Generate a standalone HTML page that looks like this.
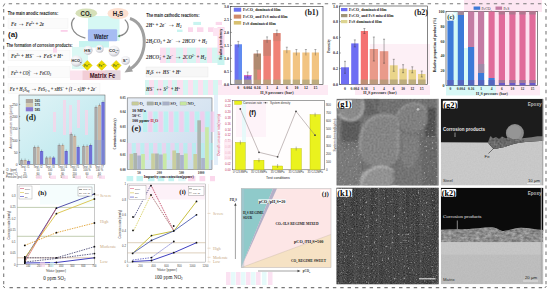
<!DOCTYPE html>
<html><head><meta charset="utf-8"><style>
html,body{margin:0;padding:0;background:#fff;width:550px;height:291px;overflow:hidden;}
svg{display:block;}
</style></head><body>
<svg width="550" height="291" viewBox="0 0 550 291">
<rect width="550" height="291" fill="#fff"/>
<defs>
<filter id="noise1" x="0" y="0" width="100%" height="100%">
  <feTurbulence type="fractalNoise" baseFrequency="0.9" numOctaves="2" seed="3" result="n"/>
  <feColorMatrix type="matrix" values="0 0 0 0 0.5  0 0 0 0 0.5  0 0 0 0 0.5  0 0 0 1.2 -0.35" result="m"/>
  <feComposite in="m" in2="SourceGraphic" operator="in"/>
</filter>
<linearGradient id="dbg" x1="0" y1="0" x2="1" y2="1">
  <stop offset="0" stop-color="#e2f4f7"/><stop offset="1" stop-color="#b5e6ec"/>
</linearGradient>
<linearGradient id="ebg" x1="0" y1="0" x2="1" y2="1">
  <stop offset="0" stop-color="#e8eef6"/><stop offset="1" stop-color="#c8dcee"/>
</linearGradient>
</defs>
<rect x="88" y="16" width="31.5" height="25" fill="#d6f8f4" />
<rect x="79" y="41" width="30" height="6.5" fill="#c8f4f0" />
<rect x="72" y="47" width="16" height="22" fill="#dcf8f4" />
<rect x="160" y="47.6" width="6" height="15.4" fill="#fbe0f0" />
<rect x="166" y="47.6" width="4" height="15.4" fill="#d6f6f2" />
<rect x="170" y="47.6" width="6" height="15.4" fill="#fbe0f0" />
<rect x="176" y="47.6" width="7" height="15.4" fill="#d6f6f2" />
<rect x="183" y="47.6" width="4" height="15.4" fill="#fbe0f0" />
<rect x="187" y="47.6" width="9" height="15.4" fill="#d6f6f2" />
<rect x="196" y="47.6" width="4" height="15.4" fill="#fbe0f0" />
<rect x="200" y="47.6" width="7" height="15.4" fill="#d6f6f2" />
<rect x="207" y="47.6" width="5" height="15.4" fill="#fbe0f0" />
<rect x="212" y="47.6" width="6" height="15.4" fill="#d6f6f2" />
<rect x="145" y="80" width="4" height="15" fill="#d6f6f2" />
<rect x="149" y="80" width="5" height="15" fill="#fbe0f0" />
<rect x="154" y="80" width="4" height="15" fill="#d6f6f2" />
<rect x="158" y="80" width="5" height="15" fill="#fbe0f0" />
<rect x="163" y="80" width="5" height="15" fill="#d6f6f2" />
<rect x="168" y="80" width="4" height="15" fill="#fbe0f0" />
<rect x="172" y="80" width="5" height="15" fill="#d6f6f2" />
<rect x="177" y="80" width="6" height="15" fill="#fbe0f0" />
<rect x="183" y="80" width="5" height="15" fill="#d6f6f2" />
<rect x="188" y="80" width="5" height="15" fill="#fbe0f0" />
<rect x="193" y="80" width="5" height="15" fill="#d6f6f2" />
<rect x="198" y="80" width="5" height="15" fill="#fbe0f0" />
<rect x="203" y="80" width="5" height="15" fill="#d6f6f2" />
<rect x="208" y="80" width="5" height="15" fill="#fbe0f0" />
<rect x="213" y="80" width="5" height="15" fill="#d6f6f2" />
<rect x="218" y="80" width="4" height="15" fill="#fbe0f0" />
<rect x="193.3" y="21.9" width="7.7" height="3.1" fill="#c8f4f0" />
<rect x="215.7" y="21.9" width="6.3" height="3.1" fill="#fbd8ec" />
<rect x="188" y="27.3" width="5" height="4.7" fill="#fbd8ec" />
<rect x="197" y="27.3" width="6.400000000000006" height="4.7" fill="#fbd8ec" />
<rect x="208" y="27.3" width="6" height="4.7" fill="#fbd8ec" />
<rect x="177" y="29.6" width="5.5" height="2.4" fill="#c8f4f0" />
<rect x="217.5" y="27" width="7" height="28" fill="#fbd8ec" />
<rect x="217.5" y="55" width="7" height="10" fill="#c8f4f0" />
<rect x="146" y="67" width="62" height="10" fill="#f7f7f7" stroke="#e4e4e4" stroke-width="0.4"/>
<rect x="8" y="18.5" width="60" height="10" fill="#fbfbfb" stroke="#f0f0f0" stroke-width="0.4"/>
<rect x="8" y="50.2" width="62" height="10.5" fill="#fbfbfb" stroke="#f0f0f0" stroke-width="0.4"/>
<rect x="8" y="66.5" width="62" height="11" fill="#fbfbfb" stroke="#f0f0f0" stroke-width="0.4"/>
<rect x="8" y="83.5" width="92" height="10" fill="#fbfbfb" stroke="#f0f0f0" stroke-width="0.4"/>
<rect x="60.7" y="30" width="7" height="1.8" fill="#fbd0ea" />
<rect x="53" y="47.6" width="4" height="5" fill="#fbd8ee" />
<text x="7.7" y="15.1" font-size="5.6" fill="#1a1a1a" font-weight="bold" font-family='"Liberation Sans", sans-serif' text-anchor="start" font-style="normal" textLength="50.5" lengthAdjust="spacingAndGlyphs">The main anodic reactions:</text>
<text x="11" y="26" font-size="5.9" fill="#383838" font-weight="bold" font-family='"Liberation Serif", serif' text-anchor="start" font-style="italic" textLength="33" lengthAdjust="spacingAndGlyphs"><tspan>Fe</tspan> <tspan font-size="8.5" font-style="normal" font-weight="normal">→</tspan> <tspan>Fe</tspan><tspan font-size="3.6" dy="-2">2+</tspan><tspan dy="2"> + 2e</tspan></text>
<text x="8" y="37" font-size="8" fill="#1a1a1a" font-weight="bold" font-family='"Liberation Sans", sans-serif' text-anchor="start" font-style="normal" >(a)</text>
<text x="6.5" y="47" font-size="5.6" fill="#1a1a1a" font-weight="bold" font-family='"Liberation Sans", sans-serif' text-anchor="start" font-style="normal" textLength="66" lengthAdjust="spacingAndGlyphs">The formation of corrosion products:</text>
<text x="11" y="58" font-size="5.9" fill="#383838" font-weight="bold" font-family='"Liberation Serif", serif' text-anchor="start" font-style="italic" textLength="52" lengthAdjust="spacingAndGlyphs">Fe<tspan font-size="3.6" dy="-2">2+</tspan><tspan dy="2"> + HS</tspan><tspan font-size="3.6" dy="-2">−</tspan><tspan dy="2"> <tspan font-size="8.5" font-style="normal" font-weight="normal">→</tspan> FeS + H</tspan><tspan font-size="3.6" dy="-2">+</tspan></text>
<text x="11" y="75" font-size="5.9" fill="#383838" font-weight="bold" font-family='"Liberation Serif", serif' text-anchor="start" font-style="italic" textLength="40" lengthAdjust="spacingAndGlyphs">Fe<tspan font-size="3.6" dy="-2">2+</tspan><tspan dy="2"> + CO</tspan><tspan font-size="3.6" dy="1">3</tspan><tspan font-size="3.6" dx="-1.6" dy="-3">2−</tspan><tspan dy="2"> <tspan font-size="8.5" font-style="normal" font-weight="normal">→</tspan> FeCO</tspan><tspan font-size="3.6" dy="1">3</tspan></text>
<text x="9.7" y="90.5" font-size="5.9" fill="#383838" font-weight="bold" font-family='"Liberation Serif", serif' text-anchor="start" font-style="italic" textLength="87" lengthAdjust="spacingAndGlyphs">Fe + H<tspan font-size="3.6" dy="1">2</tspan><tspan dy="-1">S</tspan><tspan font-size="3.6" dy="1">aq</tspan><tspan dy="-1"> <tspan font-size="8.5" font-style="normal" font-weight="normal">→</tspan> FeS</tspan><tspan font-size="3.6" dy="1">1−x</tspan><tspan dy="-1"> + xHS</tspan><tspan font-size="3.6" dy="-2">−</tspan><tspan dy="2"> + (1 − x)H</tspan><tspan font-size="3.6" dy="-2">+</tspan><tspan dy="2"> + 2e</tspan><tspan font-size="3.6" dy="-2">−</tspan></text>
<text x="146.2" y="17.3" font-size="5.6" fill="#1a1a1a" font-weight="bold" font-family='"Liberation Sans", sans-serif' text-anchor="start" font-style="normal" textLength="53.3" lengthAdjust="spacingAndGlyphs">The main cathodic reactions:</text>
<text x="146" y="27" font-size="5.9" fill="#383838" font-weight="bold" font-family='"Liberation Serif", serif' text-anchor="start" font-style="italic" textLength="35.5" lengthAdjust="spacingAndGlyphs">2H<tspan font-size="3.6" dy="-2">+</tspan><tspan dy="2"> + 2e</tspan><tspan font-size="3.6" dy="-2">−</tspan><tspan dy="2"> <tspan font-size="8.5" font-style="normal" font-weight="normal">→</tspan> H</tspan><tspan font-size="3.6" dy="1">2</tspan></text>
<text x="146" y="43" font-size="5.9" fill="#383838" font-weight="bold" font-family='"Liberation Serif", serif' text-anchor="start" font-style="italic" textLength="61" lengthAdjust="spacingAndGlyphs">2H<tspan font-size="3.6" dy="1">2</tspan><tspan dy="-1">CO</tspan><tspan font-size="3.6" dy="1">3</tspan><tspan dy="-1"> + 2e</tspan><tspan font-size="3.6" dy="-2">−</tspan><tspan dy="2"> <tspan font-size="8.5" font-style="normal" font-weight="normal">→</tspan> 2HCO</tspan><tspan font-size="3.6" dy="-2">−</tspan><tspan dy="2"> + H</tspan><tspan font-size="3.6" dy="1">2</tspan></text>
<text x="146" y="58.5" font-size="5.9" fill="#383838" font-weight="bold" font-family='"Liberation Serif", serif' text-anchor="start" font-style="italic" textLength="60" lengthAdjust="spacingAndGlyphs">2HCO<tspan font-size="3.6" dy="1">3</tspan><tspan font-size="3.6" dx="-1.6" dy="-3">−</tspan><tspan dy="2"> + 2e</tspan><tspan font-size="3.6" dy="-2">−</tspan><tspan dy="2"> <tspan font-size="8.5" font-style="normal" font-weight="normal">→</tspan> 2CO</tspan><tspan font-size="3.6" dy="-2">2−</tspan><tspan dy="2"> + H</tspan><tspan font-size="3.6" dy="1">2</tspan></text>
<text x="146" y="74" font-size="5.9" fill="#383838" font-weight="bold" font-family='"Liberation Serif", serif' text-anchor="start" font-style="italic" textLength="35" lengthAdjust="spacingAndGlyphs">H<tspan font-size="3.6" dy="1">2</tspan><tspan dy="-1">S <tspan font-size="8.5" font-style="normal" font-weight="normal">↔</tspan> HS</tspan><tspan font-size="3.6" dy="-2">−</tspan><tspan dy="2"> + H</tspan><tspan font-size="3.6" dy="-2">+</tspan></text>
<text x="146" y="90.5" font-size="5.9" fill="#383838" font-weight="bold" font-family='"Liberation Serif", serif' text-anchor="start" font-style="italic" textLength="34" lengthAdjust="spacingAndGlyphs">HS<tspan font-size="3.6" dy="-2">−</tspan><tspan dy="2"> <tspan font-size="8.5" font-style="normal" font-weight="normal">↔</tspan> S</tspan><tspan font-size="3.6" dy="-2">2−</tspan><tspan dy="2"> + H</tspan><tspan font-size="3.6" dy="-2">+</tspan></text>
<ellipse cx="86.3" cy="13.2" rx="10.8" ry="4.8" fill="#d6e0b8"/>
<text x="86" y="15.8" font-size="6.5" fill="#222" font-weight="bold" font-family='"Liberation Sans", sans-serif' text-anchor="middle" font-style="normal" textLength="10.8" lengthAdjust="spacingAndGlyphs">CO<tspan font-size="3.5" dy="1">2</tspan></text>
<ellipse cx="118" cy="13.5" rx="10.5" ry="5.6" fill="#fde0d0"/>
<text x="118" y="16.2" font-size="6.5" fill="#222" font-weight="bold" font-family='"Liberation Sans", sans-serif' text-anchor="middle" font-style="normal" textLength="10.5" lengthAdjust="spacingAndGlyphs">H<tspan font-size="3.5" dy="1">2</tspan><tspan dy="-1">S</tspan></text>
<path d="M74.5 17.7 C69.5 23, 70 34, 85.4 38.1" fill="none" stroke="#8a8a8a" stroke-width="1.3"/>
<path d="M124.8 19.6 C130.5 25, 129 34.5, 118.5 36.2" fill="none" stroke="#8a8a8a" stroke-width="1.3"/>
<path d="M117.5 36.3 L120 34.6 L120.2 37.6 Z" fill="#5a9a6a"/>
<path d="M130 18.5 C 149 24, 149 58, 130 69" fill="none" stroke="#a0a0a0" stroke-width="3"/>
<path d="M124.5 72.5 L 129.5 65 L 133 71.5 Z" fill="#a0a0a0"/>
<rect x="87.9" y="29.2" width="29.3" height="12.1" fill="#a6bcf2" rx="1.2"/>
<text x="101.2" y="38.7" font-size="6.8" fill="#1a2030" font-weight="bold" font-family='"Liberation Sans", sans-serif' text-anchor="middle" font-style="normal" textLength="14.3" lengthAdjust="spacingAndGlyphs">Water</text>
<defs><radialGradient id="ionG" cx="0.4" cy="0.35" r="0.7"><stop offset="0" stop-color="#ffffff"/><stop offset="0.6" stop-color="#ececf0"/><stop offset="1" stop-color="#b8b8c0"/></radialGradient></defs>
<circle cx="88" cy="50.3" r="4.6" fill="url(#ionG)"/>
<text x="88" y="51.599999999999994" font-size="4.3" fill="#2a2a2a" font-weight="bold" font-family='"Liberation Sans", sans-serif' text-anchor="middle" font-style="normal" >HS<tspan font-size="2.2" dy="-1.5">−</tspan></text>
<circle cx="99.6" cy="48.8" r="4.0" fill="url(#ionG)"/>
<text x="99.6" y="50.099999999999994" font-size="4.3" fill="#2a2a2a" font-weight="bold" font-family='"Liberation Sans", sans-serif' text-anchor="middle" font-style="normal" >H<tspan font-size="2.2" dy="-1.5">+</tspan></text>
<circle cx="114" cy="51" r="5.6" fill="url(#ionG)"/>
<text x="114" y="52.3" font-size="4.3" fill="#2a2a2a" font-weight="bold" font-family='"Liberation Sans", sans-serif' text-anchor="middle" font-style="normal" >CO<tspan font-size="2.2" dy="1">3</tspan><tspan font-size="2.2" dy="-2.5">2−</tspan></text>
<circle cx="76.5" cy="61" r="5.8" fill="url(#ionG)"/>
<text x="76.5" y="62.3" font-size="3.8" fill="#2a2a2a" font-weight="bold" font-family='"Liberation Sans", sans-serif' text-anchor="middle" font-style="normal" >HCO<tspan font-size="2.4" dy="1">3</tspan></text>
<circle cx="125.5" cy="60.4" r="4.5" fill="url(#ionG)"/>
<text x="125.5" y="61.699999999999996" font-size="4.3" fill="#2a2a2a" font-weight="bold" font-family='"Liberation Sans", sans-serif' text-anchor="middle" font-style="normal" >S<tspan font-size="2.2" dy="-1.5">2−</tspan></text>
<path d="M87.3 60.400000000000006 L92.3 65.4 L87.3 70.4 L82.3 65.4 Z" fill="#eedc00" stroke="#d8c000" stroke-width="0.4"/>
<text x="87.3" y="66.7" font-size="3.3" fill="#4a6a20" font-weight="bold" font-family='"Liberation Sans", sans-serif' text-anchor="middle" font-style="normal" >Fe<tspan font-size="2.2" dy="-1.3">2+</tspan></text>
<path d="M101.7 60.400000000000006 L106.7 65.4 L101.7 70.4 L96.7 65.4 Z" fill="#eedc00" stroke="#d8c000" stroke-width="0.4"/>
<text x="101.7" y="66.7" font-size="3.3" fill="#4a6a20" font-weight="bold" font-family='"Liberation Sans", sans-serif' text-anchor="middle" font-style="normal" >Fe<tspan font-size="2.2" dy="-1.3">2+</tspan></text>
<path d="M116.2 60.400000000000006 L121.2 65.4 L116.2 70.4 L111.2 65.4 Z" fill="#eedc00" stroke="#d8c000" stroke-width="0.4"/>
<text x="116.2" y="66.7" font-size="3.3" fill="#4a6a20" font-weight="bold" font-family='"Liberation Sans", sans-serif' text-anchor="middle" font-style="normal" >Fe<tspan font-size="2.2" dy="-1.3">2+</tspan></text>
<rect x="70" y="70.5" width="12.3" height="9.5" fill="#fbe4ee" />
<rect x="82.3" y="70.5" width="38" height="9.5" fill="#f2cdd6" />
<rect x="105" y="70.5" width="15.3" height="9.5" fill="#e4d6dc" />
<text x="102.5" y="78.3" font-size="6.3" fill="#3a1020" font-weight="bold" font-family='"Liberation Sans", sans-serif' text-anchor="middle" font-style="normal" textLength="25.5" lengthAdjust="spacingAndGlyphs">Matrix Fe</text>
<rect x="218" y="85" width="110" height="10" fill="#fdeaf4" />
<rect x="213" y="28" width="12" height="8" fill="#fde4f2" />
<rect x="230.5" y="6.5" width="92.5" height="77.8" fill="none" stroke="#333" stroke-width="0.6"/>
<text x="229.0" y="8.0" font-size="4" fill="#333" font-weight="bold" font-family='"Liberation Serif", serif' text-anchor="end" font-style="normal" >3.0</text>
<line x1="230.5" y1="6.5" x2="232.0" y2="6.5" stroke="#333" stroke-width="0.4" />
<text x="229.0" y="20.96666666666667" font-size="4" fill="#333" font-weight="bold" font-family='"Liberation Serif", serif' text-anchor="end" font-style="normal" >2.5</text>
<line x1="230.5" y1="19.46666666666667" x2="232.0" y2="19.46666666666667" stroke="#333" stroke-width="0.4" />
<text x="229.0" y="33.93333333333334" font-size="4" fill="#333" font-weight="bold" font-family='"Liberation Serif", serif' text-anchor="end" font-style="normal" >2.0</text>
<line x1="230.5" y1="32.43333333333334" x2="232.0" y2="32.43333333333334" stroke="#333" stroke-width="0.4" />
<text x="229.0" y="46.9" font-size="4" fill="#333" font-weight="bold" font-family='"Liberation Serif", serif' text-anchor="end" font-style="normal" >1.5</text>
<line x1="230.5" y1="45.4" x2="232.0" y2="45.4" stroke="#333" stroke-width="0.4" />
<text x="229.0" y="59.86666666666667" font-size="4" fill="#333" font-weight="bold" font-family='"Liberation Serif", serif' text-anchor="end" font-style="normal" >1.0</text>
<line x1="230.5" y1="58.36666666666667" x2="232.0" y2="58.36666666666667" stroke="#333" stroke-width="0.4" />
<text x="229.0" y="72.83333333333333" font-size="4" fill="#333" font-weight="bold" font-family='"Liberation Serif", serif' text-anchor="end" font-style="normal" >0.5</text>
<line x1="230.5" y1="71.33333333333333" x2="232.0" y2="71.33333333333333" stroke="#333" stroke-width="0.4" />
<text x="229.0" y="85.8" font-size="4" fill="#333" font-weight="bold" font-family='"Liberation Serif", serif' text-anchor="end" font-style="normal" >0.0</text>
<line x1="230.5" y1="84.3" x2="232.0" y2="84.3" stroke="#333" stroke-width="0.4" />
<text x="222.3" y="44.2" font-size="3.8" fill="#1a1a1a" font-weight="bold" font-family='"Liberation Sans", sans-serif' text-anchor="middle" font-style="normal" transform="rotate(-90 222.3 44.2)" textLength="31" lengthAdjust="spacingAndGlyphs">Scaling tendency</text>
<rect x="234.6" y="44.4" width="7.400000000000006" height="39.9" fill="#6a72f0" />
<rect x="234.6" y="79.6" width="7.400000000000006" height="4.700000000000003" fill="#b0a67e" opacity="0.8"/>
<rect x="244" y="75" width="7.400000000000006" height="9.299999999999997" fill="#8262e2" />
<rect x="244" y="79.6" width="7.400000000000006" height="4.700000000000003" fill="#b0a67e" opacity="0.8"/>
<rect x="253.7" y="53.7" width="7.300000000000011" height="30.599999999999994" fill="#e9837a" />
<rect x="253.7" y="79.6" width="7.300000000000011" height="4.700000000000003" fill="#b0a67e" opacity="0.8"/>
<rect x="263.4" y="39.9" width="7.400000000000034" height="44.4" fill="#ef8076" />
<rect x="263.4" y="79.6" width="7.400000000000034" height="4.700000000000003" fill="#b0a67e" opacity="0.8"/>
<rect x="273.3" y="33.1" width="7.199999999999989" height="51.199999999999996" fill="#f08276" />
<rect x="273.3" y="79.6" width="7.199999999999989" height="4.700000000000003" fill="#b0a67e" opacity="0.8"/>
<rect x="283.2" y="50.2" width="7.300000000000011" height="34.099999999999994" fill="#f2c482" />
<rect x="283.2" y="79.6" width="7.300000000000011" height="4.700000000000003" fill="#b0a67e" opacity="0.8"/>
<rect x="292.8" y="52.5" width="7.199999999999989" height="31.799999999999997" fill="#f2c482" />
<rect x="292.8" y="79.6" width="7.199999999999989" height="4.700000000000003" fill="#b0a67e" opacity="0.8"/>
<rect x="302.3" y="52.5" width="7.199999999999989" height="31.799999999999997" fill="#f2c482" />
<rect x="302.3" y="79.6" width="7.199999999999989" height="4.700000000000003" fill="#b0a67e" opacity="0.8"/>
<rect x="311.8" y="52.5" width="7.199999999999989" height="31.799999999999997" fill="#f2c482" />
<rect x="311.8" y="79.6" width="7.199999999999989" height="4.700000000000003" fill="#b0a67e" opacity="0.8"/>
<rect x="238.5" y="44.4" width="3.5" height="35" fill="#58a0f0" opacity="0.55"/>
<rect x="244" y="75" width="7.4" height="1.2" fill="#e070c0" />
<rect x="253.7" y="53.7" width="7.3" height="16" fill="#b08a70" />
<rect x="253.7" y="69.7" width="3.5" height="10" fill="#a89878" opacity="0.8"/>
<rect x="263.4" y="39.9" width="7.4" height="16" fill="#c88070" opacity="0.8"/>
<rect x="273.3" y="33.1" width="7.2" height="8" fill="#d08070" opacity="0.7"/>
<line x1="238.3" y1="41.4" x2="238.3" y2="47.4" stroke="#444" stroke-width="0.4" />
<line x1="237.3" y1="41.4" x2="239.3" y2="41.4" stroke="#444" stroke-width="0.4" />
<line x1="247.7" y1="72" x2="247.7" y2="78" stroke="#444" stroke-width="0.4" />
<line x1="246.7" y1="72" x2="248.7" y2="72" stroke="#444" stroke-width="0.4" />
<line x1="257.35" y1="50.7" x2="257.35" y2="56.7" stroke="#444" stroke-width="0.4" />
<line x1="256.35" y1="50.7" x2="258.35" y2="50.7" stroke="#444" stroke-width="0.4" />
<line x1="267.1" y1="36.9" x2="267.1" y2="42.9" stroke="#444" stroke-width="0.4" />
<line x1="266.1" y1="36.9" x2="268.1" y2="36.9" stroke="#444" stroke-width="0.4" />
<line x1="276.9" y1="30.1" x2="276.9" y2="36.1" stroke="#444" stroke-width="0.4" />
<line x1="275.9" y1="30.1" x2="277.9" y2="30.1" stroke="#444" stroke-width="0.4" />
<line x1="286.85" y1="47.2" x2="286.85" y2="53.2" stroke="#444" stroke-width="0.4" />
<line x1="285.85" y1="47.2" x2="287.85" y2="47.2" stroke="#444" stroke-width="0.4" />
<line x1="296.4" y1="49.5" x2="296.4" y2="55.5" stroke="#444" stroke-width="0.4" />
<line x1="295.4" y1="49.5" x2="297.4" y2="49.5" stroke="#444" stroke-width="0.4" />
<line x1="305.9" y1="49.5" x2="305.9" y2="55.5" stroke="#444" stroke-width="0.4" />
<line x1="304.9" y1="49.5" x2="306.9" y2="49.5" stroke="#444" stroke-width="0.4" />
<line x1="315.4" y1="49.5" x2="315.4" y2="55.5" stroke="#444" stroke-width="0.4" />
<line x1="314.4" y1="49.5" x2="316.4" y2="49.5" stroke="#444" stroke-width="0.4" />
<rect x="233.8" y="7.7" width="7.4" height="4" fill="#6b73f2" />
<text x="243" y="11.3" font-size="3.9" fill="#1a1a1a" font-weight="bold" font-family='"Liberation Serif", serif' text-anchor="start" font-style="normal" >FeCO<tspan font-size="2.5" dy="1">3</tspan><tspan dy="-1"> dominated film</tspan></text>
<rect x="233.8" y="14.6" width="7.4" height="4" fill="#d08a6a" />
<text x="243" y="18.2" font-size="3.9" fill="#1a1a1a" font-weight="bold" font-family='"Liberation Serif", serif' text-anchor="start" font-style="normal" >FeCO<tspan font-size="2.5" dy="1">3</tspan><tspan dy="-1"> and FeS mixed film</tspan></text>
<rect x="233.8" y="21" width="7.4" height="3.6" fill="#d8c070" />
<text x="243" y="24.6" font-size="3.9" fill="#1a1a1a" font-weight="bold" font-family='"Liberation Serif", serif' text-anchor="start" font-style="normal" >FeS dominated film</text>
<text x="318.5" y="15" font-size="8" fill="#222" font-weight="bold" font-family='"Liberation Serif", serif' text-anchor="end" font-style="normal" >(b1)</text>
<text x="238.3" y="88.9" font-size="3.8" fill="#222" font-weight="bold" font-family='"Liberation Serif", serif' text-anchor="middle" font-style="normal" >0</text>
<text x="247.7" y="88.9" font-size="3.8" fill="#222" font-weight="bold" font-family='"Liberation Serif", serif' text-anchor="middle" font-style="normal" >0.004</text>
<text x="257.35" y="88.9" font-size="3.8" fill="#222" font-weight="bold" font-family='"Liberation Serif", serif' text-anchor="middle" font-style="normal" >0.16</text>
<text x="267.1" y="88.9" font-size="3.8" fill="#222" font-weight="bold" font-family='"Liberation Serif", serif' text-anchor="middle" font-style="normal" >1</text>
<text x="276.9" y="88.9" font-size="3.8" fill="#222" font-weight="bold" font-family='"Liberation Serif", serif' text-anchor="middle" font-style="normal" >4</text>
<text x="286.85" y="88.9" font-size="3.8" fill="#222" font-weight="bold" font-family='"Liberation Serif", serif' text-anchor="middle" font-style="normal" >6</text>
<text x="296.4" y="88.9" font-size="3.8" fill="#222" font-weight="bold" font-family='"Liberation Serif", serif' text-anchor="middle" font-style="normal" >10</text>
<text x="305.9" y="88.9" font-size="3.8" fill="#222" font-weight="bold" font-family='"Liberation Serif", serif' text-anchor="middle" font-style="normal" >12</text>
<text x="315.4" y="88.9" font-size="3.8" fill="#222" font-weight="bold" font-family='"Liberation Serif", serif' text-anchor="middle" font-style="normal" >15</text>
<text x="277" y="94" font-size="4.2" fill="#333" font-weight="bold" font-family='"Liberation Serif", serif' text-anchor="middle" font-style="normal" >H<tspan font-size="2.6" dy="1">2</tspan><tspan dy="-1">S pressure (bar)</tspan></text>
<rect x="355" y="85" width="75" height="10" fill="#fdeaf4" />
<rect x="370" y="44" width="60" height="40" fill="#fdf0f6" />
<rect x="339.5" y="6" width="87.89999999999998" height="78.3" fill="none" stroke="#333" stroke-width="0.6"/>
<text x="338.0" y="7.5" font-size="4" fill="#333" font-weight="bold" font-family='"Liberation Serif", serif' text-anchor="end" font-style="normal" >1.0</text>
<line x1="339.5" y1="6.0" x2="341.0" y2="6.0" stroke="#333" stroke-width="0.4" />
<text x="338.0" y="23.16" font-size="4" fill="#333" font-weight="bold" font-family='"Liberation Serif", serif' text-anchor="end" font-style="normal" >0.8</text>
<line x1="339.5" y1="21.66" x2="341.0" y2="21.66" stroke="#333" stroke-width="0.4" />
<text x="338.0" y="38.82" font-size="4" fill="#333" font-weight="bold" font-family='"Liberation Serif", serif' text-anchor="end" font-style="normal" >0.6</text>
<line x1="339.5" y1="37.32" x2="341.0" y2="37.32" stroke="#333" stroke-width="0.4" />
<text x="338.0" y="54.48" font-size="4" fill="#333" font-weight="bold" font-family='"Liberation Serif", serif' text-anchor="end" font-style="normal" >0.4</text>
<line x1="339.5" y1="52.98" x2="341.0" y2="52.98" stroke="#333" stroke-width="0.4" />
<text x="338.0" y="70.14" font-size="4" fill="#333" font-weight="bold" font-family='"Liberation Serif", serif' text-anchor="end" font-style="normal" >0.2</text>
<line x1="339.5" y1="68.64" x2="341.0" y2="68.64" stroke="#333" stroke-width="0.4" />
<text x="338.0" y="85.8" font-size="4" fill="#333" font-weight="bold" font-family='"Liberation Serif", serif' text-anchor="end" font-style="normal" >0.0</text>
<line x1="339.5" y1="84.3" x2="341.0" y2="84.3" stroke="#333" stroke-width="0.4" />
<text x="329" y="45" font-size="4" fill="#333" font-weight="bold" font-family='"Liberation Serif", serif' text-anchor="middle" font-style="normal" transform="rotate(-90 330 45)">Porosity</text>
<rect x="341" y="67.3" width="8" height="17.0" fill="#6d6df3" />
<rect x="351.2" y="43.4" width="7.300000000000011" height="40.9" fill="#6d6df3" />
<rect x="360.8" y="31" width="7.199999999999989" height="53.3" fill="#f47272" />
<rect x="360.8" y="79.5" width="7.199999999999989" height="4.799999999999997" fill="#a89a78" opacity="0.7"/>
<rect x="369.7" y="49" width="8.300000000000011" height="35.3" fill="#e99a8a" />
<rect x="369.7" y="79.5" width="8.300000000000011" height="4.799999999999997" fill="#a89a78" opacity="0.7"/>
<rect x="379.8" y="51.2" width="8.5" height="33.099999999999994" fill="#e99a8a" />
<rect x="379.8" y="79.5" width="8.5" height="4.799999999999997" fill="#a89a78" opacity="0.7"/>
<rect x="389.8" y="65.3" width="7.899999999999977" height="19.0" fill="#ead58a" />
<rect x="389.8" y="79.5" width="7.899999999999977" height="4.799999999999997" fill="#a89a78" opacity="0.7"/>
<rect x="399.4" y="68.7" width="7.400000000000034" height="15.599999999999994" fill="#ead58a" />
<rect x="399.4" y="79.5" width="7.400000000000034" height="4.799999999999997" fill="#a89a78" opacity="0.7"/>
<rect x="408.6" y="69.8" width="7.399999999999977" height="14.5" fill="#ead58a" />
<rect x="408.6" y="79.5" width="7.399999999999977" height="4.799999999999997" fill="#a89a78" opacity="0.7"/>
<rect x="418" y="74" width="7.5" height="10.299999999999997" fill="#ead58a" />
<rect x="418" y="79.5" width="7.5" height="4.799999999999997" fill="#a89a78" opacity="0.7"/>
<line x1="345.0" y1="61.3" x2="345.0" y2="73.3" stroke="#333" stroke-width="0.4" />
<line x1="344.0" y1="61.3" x2="346.0" y2="61.3" stroke="#333" stroke-width="0.4" />
<line x1="344.0" y1="73.3" x2="346.0" y2="73.3" stroke="#333" stroke-width="0.4" />
<line x1="354.85" y1="39.9" x2="354.85" y2="46.9" stroke="#333" stroke-width="0.4" />
<line x1="353.85" y1="39.9" x2="355.85" y2="39.9" stroke="#333" stroke-width="0.4" />
<line x1="353.85" y1="46.9" x2="355.85" y2="46.9" stroke="#333" stroke-width="0.4" />
<line x1="364.4" y1="28.5" x2="364.4" y2="33.5" stroke="#333" stroke-width="0.4" />
<line x1="363.4" y1="28.5" x2="365.4" y2="28.5" stroke="#333" stroke-width="0.4" />
<line x1="363.4" y1="33.5" x2="365.4" y2="33.5" stroke="#333" stroke-width="0.4" />
<line x1="373.85" y1="37" x2="373.85" y2="61" stroke="#333" stroke-width="0.4" />
<line x1="372.85" y1="37" x2="374.85" y2="37" stroke="#333" stroke-width="0.4" />
<line x1="372.85" y1="61" x2="374.85" y2="61" stroke="#333" stroke-width="0.4" />
<line x1="384.05" y1="39.2" x2="384.05" y2="63.2" stroke="#333" stroke-width="0.4" />
<line x1="383.05" y1="39.2" x2="385.05" y2="39.2" stroke="#333" stroke-width="0.4" />
<line x1="383.05" y1="63.2" x2="385.05" y2="63.2" stroke="#333" stroke-width="0.4" />
<line x1="393.75" y1="59.3" x2="393.75" y2="71.3" stroke="#333" stroke-width="0.4" />
<line x1="392.75" y1="59.3" x2="394.75" y2="59.3" stroke="#333" stroke-width="0.4" />
<line x1="392.75" y1="71.3" x2="394.75" y2="71.3" stroke="#333" stroke-width="0.4" />
<line x1="403.1" y1="64.7" x2="403.1" y2="72.7" stroke="#333" stroke-width="0.4" />
<line x1="402.1" y1="64.7" x2="404.1" y2="64.7" stroke="#333" stroke-width="0.4" />
<line x1="402.1" y1="72.7" x2="404.1" y2="72.7" stroke="#333" stroke-width="0.4" />
<line x1="412.3" y1="66.8" x2="412.3" y2="72.8" stroke="#333" stroke-width="0.4" />
<line x1="411.3" y1="66.8" x2="413.3" y2="66.8" stroke="#333" stroke-width="0.4" />
<line x1="411.3" y1="72.8" x2="413.3" y2="72.8" stroke="#333" stroke-width="0.4" />
<line x1="421.75" y1="71" x2="421.75" y2="77" stroke="#333" stroke-width="0.4" />
<line x1="420.75" y1="71" x2="422.75" y2="71" stroke="#333" stroke-width="0.4" />
<line x1="420.75" y1="77" x2="422.75" y2="77" stroke="#333" stroke-width="0.4" />
<rect x="341" y="8" width="6.4" height="3.2" fill="#6d6df3" />
<text x="349" y="11.3" font-size="3.9" fill="#1a1a1a" font-weight="bold" font-family='"Liberation Serif", serif' text-anchor="start" font-style="normal" >FeCO<tspan font-size="2.5" dy="1">3</tspan><tspan dy="-1"> dominated film</tspan></text>
<rect x="341" y="14" width="6.4" height="3.2" fill="#a09478" />
<text x="349" y="17.3" font-size="3.9" fill="#1a1a1a" font-weight="bold" font-family='"Liberation Serif", serif' text-anchor="start" font-style="normal" >FeCO<tspan font-size="2.5" dy="1">3</tspan><tspan dy="-1"> and FeS mixed film</tspan></text>
<rect x="341" y="20" width="6.4" height="3.2" fill="#ddd490" />
<text x="349" y="23.3" font-size="3.9" fill="#1a1a1a" font-weight="bold" font-family='"Liberation Serif", serif' text-anchor="start" font-style="normal" >FeS dominated film</text>
<text x="428" y="14.5" font-size="8" fill="#222" font-weight="bold" font-family='"Liberation Serif", serif' text-anchor="end" font-style="normal" >(b2)</text>
<text x="345.0" y="89.6" font-size="3.8" fill="#333" font-weight="bold" font-family='"Liberation Serif", serif' text-anchor="middle" font-style="normal" >0</text>
<text x="354.85" y="89.6" font-size="3.8" fill="#333" font-weight="bold" font-family='"Liberation Serif", serif' text-anchor="middle" font-style="normal" >0.004</text>
<text x="364.4" y="89.6" font-size="3.8" fill="#333" font-weight="bold" font-family='"Liberation Serif", serif' text-anchor="middle" font-style="normal" >0.16</text>
<text x="373.85" y="89.6" font-size="3.8" fill="#333" font-weight="bold" font-family='"Liberation Serif", serif' text-anchor="middle" font-style="normal" >1</text>
<text x="384.05" y="89.6" font-size="3.8" fill="#333" font-weight="bold" font-family='"Liberation Serif", serif' text-anchor="middle" font-style="normal" >4</text>
<text x="393.75" y="89.6" font-size="3.8" fill="#333" font-weight="bold" font-family='"Liberation Serif", serif' text-anchor="middle" font-style="normal" >6</text>
<text x="403.1" y="89.6" font-size="3.8" fill="#333" font-weight="bold" font-family='"Liberation Serif", serif' text-anchor="middle" font-style="normal" >10</text>
<text x="412.3" y="89.6" font-size="3.8" fill="#333" font-weight="bold" font-family='"Liberation Serif", serif' text-anchor="middle" font-style="normal" >12</text>
<text x="421.75" y="89.6" font-size="3.8" fill="#333" font-weight="bold" font-family='"Liberation Serif", serif' text-anchor="middle" font-style="normal" >15</text>
<text x="380" y="94" font-size="4.2" fill="#333" font-weight="bold" font-family='"Liberation Serif", serif' text-anchor="middle" font-style="normal" >H<tspan font-size="2.6" dy="1">2</tspan><tspan dy="-1">S pressure (bar)</tspan></text>
<rect x="464" y="0" width="78" height="12" fill="#fde6f2" />
<rect x="453.5" y="11.5" width="4.5" height="73.9" fill="#d2f8f6" />
<rect x="463.8" y="48" width="4.2" height="37.400000000000006" fill="#d8faf8" />
<rect x="474" y="12" width="4" height="73.4" fill="#fde8f4" />
<rect x="494.8" y="12" width="4.2" height="73.4" fill="#fde2f0" />
<rect x="505" y="12" width="4.2" height="73.4" fill="#fde2f0" />
<rect x="515.3" y="12" width="4.2" height="73.4" fill="#fde2f0" />
<rect x="525.5" y="12" width="4.2" height="73.4" fill="#fde2f0" />
<rect x="446" y="85.4" width="50" height="10" fill="#d8f8f6" />
<rect x="496" y="85.4" width="44" height="10" fill="#fdeaf4" />
<rect x="446" y="11.5" width="91.5" height="73.9" fill="none" stroke="#333" stroke-width="0.6"/>
<text x="444.5" y="13.0" font-size="4" fill="#333" font-weight="bold" font-family='"Liberation Serif", serif' text-anchor="end" font-style="normal" >100</text>
<text x="444.5" y="27.78" font-size="4" fill="#333" font-weight="bold" font-family='"Liberation Serif", serif' text-anchor="end" font-style="normal" >80</text>
<text x="444.5" y="42.56" font-size="4" fill="#333" font-weight="bold" font-family='"Liberation Serif", serif' text-anchor="end" font-style="normal" >60</text>
<text x="444.5" y="57.34" font-size="4" fill="#333" font-weight="bold" font-family='"Liberation Serif", serif' text-anchor="end" font-style="normal" >40</text>
<text x="444.5" y="72.12" font-size="4" fill="#333" font-weight="bold" font-family='"Liberation Serif", serif' text-anchor="end" font-style="normal" >20</text>
<text x="444.5" y="86.9" font-size="4" fill="#333" font-weight="bold" font-family='"Liberation Serif", serif' text-anchor="end" font-style="normal" >0</text>
<text x="435.5" y="45" font-size="3.8" fill="#222" font-weight="bold" font-family='"Liberation Serif", serif' text-anchor="middle" font-style="normal" transform="rotate(-90 435.5 45)" textLength="54" lengthAdjust="spacingAndGlyphs">Relative proportion of product (%)</text>
<rect x="447.4" y="20.7" width="6.2" height="64.7" fill="#3c7ad8" />
<rect x="447.4" y="80" width="6.2" height="5.400000000000006" fill="#5a62b8" opacity="0.8"/>
<rect x="457.8" y="11.5" width="6.2" height="3.5" fill="#c47ca4" />
<rect x="457.8" y="11.5" width="6.2" height="3.5" fill="#a08898" />
<rect x="457.8" y="15" width="6.2" height="70.4" fill="#3c7ad8" />
<rect x="457.8" y="80" width="6.2" height="5.400000000000006" fill="#5a62b8" opacity="0.8"/>
<rect x="468" y="11.5" width="6.2" height="35.5" fill="#c47ca4" />
<rect x="468" y="47" width="6.2" height="38.400000000000006" fill="#3c7ad8" />
<rect x="468" y="80" width="6.2" height="5.400000000000006" fill="#5a62b8" opacity="0.8"/>
<rect x="478" y="11.5" width="6.2" height="61.5" fill="#c47ca4" />
<rect x="478" y="64" width="6.2" height="9" fill="#a08aa8" />
<rect x="478" y="73" width="6.2" height="12.400000000000006" fill="#3c7ad8" />
<rect x="478" y="80" width="6.2" height="5.400000000000006" fill="#5a62b8" opacity="0.8"/>
<rect x="488.5" y="11.5" width="6.2" height="66.5" fill="#e06c9a" />
<rect x="488.5" y="78" width="6.2" height="7.400000000000006" fill="#3c7ad8" />
<rect x="488.5" y="80" width="6.2" height="5.400000000000006" fill="#5a62b8" opacity="0.8"/>
<rect x="498.8" y="11.5" width="6.2" height="71.5" fill="#e06c9a" />
<rect x="498.8" y="11.5" width="6.2" height="3" fill="#b07890" />
<rect x="498.8" y="80" width="6.2" height="3" fill="#a07898" />
<rect x="498.8" y="83" width="6.2" height="2.4000000000000057" fill="#6a5ac8" />
<rect x="509.3" y="11.5" width="6.2" height="71.5" fill="#e06c9a" />
<rect x="509.3" y="11.5" width="6.2" height="3" fill="#b07890" />
<rect x="509.3" y="80" width="6.2" height="3" fill="#a07898" />
<rect x="509.3" y="83" width="6.2" height="2.4000000000000057" fill="#6a5ac8" />
<rect x="519.4" y="11.5" width="6.2" height="71.5" fill="#e06c9a" />
<rect x="519.4" y="11.5" width="6.2" height="3" fill="#b07890" />
<rect x="519.4" y="80" width="6.2" height="3" fill="#a07898" />
<rect x="519.4" y="83" width="6.2" height="2.4000000000000057" fill="#6a5ac8" />
<rect x="529.4" y="11.5" width="6.2" height="71.5" fill="#e06c9a" />
<rect x="529.4" y="11.5" width="6.2" height="3" fill="#b07890" />
<rect x="529.4" y="80" width="6.2" height="3" fill="#a07898" />
<rect x="529.4" y="83" width="6.2" height="2.4000000000000057" fill="#6a5ac8" />
<rect x="473.6" y="6.5" width="6.6" height="3.3" fill="#3c7ad8" />
<text x="481.5" y="9.6" font-size="3.8" fill="#333" font-weight="normal" font-family='"Liberation Serif", serif' text-anchor="start" font-style="normal" >FeCO<tspan font-size="2.4" dy="1">3</tspan></text>
<rect x="495.5" y="6.5" width="6.6" height="3.3" fill="#c47ca4" />
<text x="503.5" y="9.6" font-size="3.8" fill="#333" font-weight="normal" font-family='"Liberation Serif", serif' text-anchor="start" font-style="normal" >FeS</text>
<rect x="446.5" y="13" width="9.5" height="7" fill="#f0fbfb" />
<text x="447.2" y="19.4" font-size="6.6" fill="#0a3a2a" font-weight="bold" font-family='"Liberation Serif", serif' text-anchor="start" font-style="normal" >(c)</text>
<text x="450.5" y="90" font-size="3.6" fill="#333" font-weight="bold" font-family='"Liberation Serif", serif' text-anchor="middle" font-style="normal" >0</text>
<text x="460.90000000000003" y="90" font-size="3.6" fill="#333" font-weight="bold" font-family='"Liberation Serif", serif' text-anchor="middle" font-style="normal" >0.004</text>
<text x="471.1" y="90" font-size="3.6" fill="#333" font-weight="bold" font-family='"Liberation Serif", serif' text-anchor="middle" font-style="normal" >0.16</text>
<text x="481.1" y="90" font-size="3.6" fill="#333" font-weight="bold" font-family='"Liberation Serif", serif' text-anchor="middle" font-style="normal" >1</text>
<text x="491.6" y="90" font-size="3.6" fill="#333" font-weight="bold" font-family='"Liberation Serif", serif' text-anchor="middle" font-style="normal" >4</text>
<text x="501.90000000000003" y="90" font-size="3.6" fill="#333" font-weight="bold" font-family='"Liberation Serif", serif' text-anchor="middle" font-style="normal" >6</text>
<text x="512.4" y="90" font-size="3.6" fill="#333" font-weight="bold" font-family='"Liberation Serif", serif' text-anchor="middle" font-style="normal" >10</text>
<text x="522.5" y="90" font-size="3.6" fill="#333" font-weight="bold" font-family='"Liberation Serif", serif' text-anchor="middle" font-style="normal" >12</text>
<text x="532.5" y="90" font-size="3.6" fill="#333" font-weight="bold" font-family='"Liberation Serif", serif' text-anchor="middle" font-style="normal" >15</text>
<text x="492" y="94.5" font-size="4" fill="#333" font-weight="bold" font-family='"Liberation Serif", serif' text-anchor="middle" font-style="normal" >H<tspan font-size="2.6" dy="1">2</tspan><tspan dy="-1">S pressure (bar)</tspan></text>
<rect x="19" y="95" width="86" height="69.4" fill="url(#dbg)" stroke="#555" stroke-width="0.5"/>
<rect x="53" y="112" width="3" height="20" fill="#f6d4ea" opacity="0.8"/>
<rect x="63" y="100" width="3" height="35" fill="#f6d4ea" opacity="0.8"/>
<rect x="69" y="105" width="3" height="30" fill="#f6d4ea" opacity="0.8"/>
<rect x="77" y="100" width="3" height="28" fill="#f6d4ea" opacity="0.8"/>
<rect x="85" y="110" width="3" height="25" fill="#f6d4ea" opacity="0.8"/>
<text x="17.5" y="165.70000000000002" font-size="3.2" fill="#333" font-weight="normal" font-family='"Liberation Sans", sans-serif' text-anchor="end" font-style="normal" >0</text>
<line x1="19" y1="164.4" x2="20.2" y2="164.4" stroke="#333" stroke-width="0.4" />
<text x="17.5" y="153.70000000000002" font-size="3.2" fill="#333" font-weight="normal" font-family='"Liberation Sans", sans-serif' text-anchor="end" font-style="normal" >50</text>
<line x1="19" y1="152.4" x2="20.2" y2="152.4" stroke="#333" stroke-width="0.4" />
<text x="17.5" y="141.70000000000002" font-size="3.2" fill="#333" font-weight="normal" font-family='"Liberation Sans", sans-serif' text-anchor="end" font-style="normal" >100</text>
<line x1="19" y1="140.4" x2="20.2" y2="140.4" stroke="#333" stroke-width="0.4" />
<text x="17.5" y="129.70000000000002" font-size="3.2" fill="#333" font-weight="normal" font-family='"Liberation Sans", sans-serif' text-anchor="end" font-style="normal" >150</text>
<line x1="19" y1="128.4" x2="20.2" y2="128.4" stroke="#333" stroke-width="0.4" />
<text x="17.5" y="117.7" font-size="3.2" fill="#333" font-weight="normal" font-family='"Liberation Sans", sans-serif' text-anchor="end" font-style="normal" >200</text>
<line x1="19" y1="116.4" x2="20.2" y2="116.4" stroke="#333" stroke-width="0.4" />
<text x="17.5" y="105.7" font-size="3.2" fill="#333" font-weight="normal" font-family='"Liberation Sans", sans-serif' text-anchor="end" font-style="normal" >250</text>
<line x1="19" y1="104.4" x2="20.2" y2="104.4" stroke="#333" stroke-width="0.4" />
<text x="11.5" y="127" font-size="3.3" fill="#605058" font-weight="normal" font-family='"Liberation Sans", sans-serif' text-anchor="middle" font-style="normal" transform="rotate(-90 11.5 127)">Average corrosion rate (μm/y)</text>
<rect x="20.0" y="160" width="3.2" height="4.400000000000006" fill="#a9a9a9" />
<line x1="21.6" y1="158.5" x2="21.6" y2="161" stroke="#333" stroke-width="0.3" />
<rect x="23.5" y="160" width="3.2" height="4.400000000000006" fill="#cbb8a6" />
<line x1="25.1" y1="158.5" x2="25.1" y2="161" stroke="#333" stroke-width="0.3" />
<rect x="27.0" y="161" width="3.2" height="3.4000000000000057" fill="#7070d8" />
<line x1="28.6" y1="159.5" x2="28.6" y2="162" stroke="#333" stroke-width="0.3" />
<rect x="33.0" y="147" width="3.2" height="17.400000000000006" fill="#a9a9a9" />
<line x1="34.6" y1="145.5" x2="34.6" y2="148" stroke="#333" stroke-width="0.3" />
<rect x="36.5" y="147" width="3.2" height="17.400000000000006" fill="#cbb8a6" />
<line x1="38.1" y1="145.5" x2="38.1" y2="148" stroke="#333" stroke-width="0.3" />
<rect x="40.0" y="151" width="3.2" height="13.400000000000006" fill="#7070d8" />
<line x1="41.6" y1="149.5" x2="41.6" y2="152" stroke="#333" stroke-width="0.3" />
<rect x="45.0" y="157.6" width="3.2" height="6.800000000000011" fill="#a9a9a9" />
<line x1="46.6" y1="156.1" x2="46.6" y2="158.6" stroke="#333" stroke-width="0.3" />
<rect x="48.5" y="157.6" width="3.2" height="6.800000000000011" fill="#cbb8a6" />
<line x1="50.1" y1="156.1" x2="50.1" y2="158.6" stroke="#333" stroke-width="0.3" />
<rect x="52.0" y="157.6" width="3.2" height="6.800000000000011" fill="#7070d8" />
<line x1="53.6" y1="156.1" x2="53.6" y2="158.6" stroke="#333" stroke-width="0.3" />
<rect x="57.6" y="145" width="3.2" height="19.400000000000006" fill="#a9a9a9" />
<line x1="59.2" y1="143.5" x2="59.2" y2="146" stroke="#333" stroke-width="0.3" />
<rect x="61.1" y="145" width="3.2" height="19.400000000000006" fill="#cbb8a6" />
<line x1="62.7" y1="143.5" x2="62.7" y2="146" stroke="#333" stroke-width="0.3" />
<rect x="64.6" y="151" width="3.2" height="13.400000000000006" fill="#7070d8" />
<line x1="66.19999999999999" y1="149.5" x2="66.19999999999999" y2="152" stroke="#333" stroke-width="0.3" />
<rect x="69.6" y="134" width="3.2" height="30.400000000000006" fill="#a9a9a9" />
<line x1="71.19999999999999" y1="132.5" x2="71.19999999999999" y2="135" stroke="#333" stroke-width="0.3" />
<rect x="73.1" y="136" width="3.2" height="28.400000000000006" fill="#cbb8a6" />
<line x1="74.69999999999999" y1="134.5" x2="74.69999999999999" y2="137" stroke="#333" stroke-width="0.3" />
<rect x="76.6" y="147" width="3.2" height="17.400000000000006" fill="#7070d8" />
<line x1="78.19999999999999" y1="145.5" x2="78.19999999999999" y2="148" stroke="#333" stroke-width="0.3" />
<rect x="82.0" y="146" width="3.2" height="18.400000000000006" fill="#a9a9a9" />
<line x1="83.6" y1="144.5" x2="83.6" y2="147" stroke="#333" stroke-width="0.3" />
<rect x="85.5" y="146" width="3.2" height="18.400000000000006" fill="#cbb8a6" />
<line x1="87.1" y1="144.5" x2="87.1" y2="147" stroke="#333" stroke-width="0.3" />
<rect x="89.0" y="145" width="3.2" height="19.400000000000006" fill="#7070d8" />
<line x1="90.6" y1="143.5" x2="90.6" y2="146" stroke="#333" stroke-width="0.3" />
<rect x="94.4" y="107" width="3.2" height="57.400000000000006" fill="#a9a9a9" />
<line x1="96.0" y1="105.5" x2="96.0" y2="108" stroke="#333" stroke-width="0.3" />
<rect x="97.9" y="105" width="3.2" height="59.400000000000006" fill="#cbb8a6" />
<line x1="99.5" y1="103.5" x2="99.5" y2="106" stroke="#333" stroke-width="0.3" />
<rect x="101.4" y="102" width="3.2" height="62.400000000000006" fill="#7070d8" />
<line x1="103.0" y1="100.5" x2="103.0" y2="103" stroke="#333" stroke-width="0.3" />
<rect x="94.4" y="140" width="10" height="24.4" fill="#8ea0c8" opacity="0.35"/>
<rect x="25.8" y="99.0" width="7.3" height="4.1" fill="#aca49c" />
<text x="34.8" y="102.3" font-size="3.2" fill="#333" font-weight="bold" font-family='"Liberation Sans", sans-serif' text-anchor="start" font-style="normal" >565</text>
<rect x="25.8" y="103.1" width="7.3" height="4.1" fill="#d2c8b0" />
<text x="34.8" y="106.39999999999999" font-size="3.2" fill="#333" font-weight="bold" font-family='"Liberation Sans", sans-serif' text-anchor="start" font-style="normal" >575</text>
<rect x="25.8" y="107.2" width="7.3" height="4.1" fill="#8878d0" />
<text x="34.8" y="110.5" font-size="3.2" fill="#333" font-weight="bold" font-family='"Liberation Sans", sans-serif' text-anchor="start" font-style="normal" >585</text>
<text x="26" y="119.6" font-size="8.2" fill="#1a2a1a" font-weight="bold" font-family='"Liberation Serif", serif' text-anchor="start" font-style="normal" >(d)</text>
<text x="25" y="167.5" font-size="2.8" fill="#333" font-weight="normal" font-family='"Liberation Sans", sans-serif' text-anchor="middle" font-style="normal" >Test #1</text>
<text x="38" y="167.5" font-size="2.8" fill="#333" font-weight="normal" font-family='"Liberation Sans", sans-serif' text-anchor="middle" font-style="normal" >Test #2</text>
<text x="50" y="167.5" font-size="2.8" fill="#333" font-weight="normal" font-family='"Liberation Sans", sans-serif' text-anchor="middle" font-style="normal" >Test #3</text>
<text x="62.6" y="167.5" font-size="2.8" fill="#333" font-weight="normal" font-family='"Liberation Sans", sans-serif' text-anchor="middle" font-style="normal" >Test #4</text>
<text x="74.6" y="167.5" font-size="2.8" fill="#333" font-weight="normal" font-family='"Liberation Sans", sans-serif' text-anchor="middle" font-style="normal" >Test #5</text>
<text x="87" y="167.5" font-size="2.8" fill="#333" font-weight="normal" font-family='"Liberation Sans", sans-serif' text-anchor="middle" font-style="normal" >Test #6</text>
<text x="99.4" y="167.5" font-size="2.8" fill="#333" font-weight="normal" font-family='"Liberation Sans", sans-serif' text-anchor="middle" font-style="normal" >Test #7</text>
<text x="6" y="171" font-size="2.6" fill="#333" font-weight="normal" font-family='"Liberation Sans", sans-serif' text-anchor="start" font-style="normal" >Cl⁻ (ppm)</text>
<text x="6" y="174.5" font-size="2.6" fill="#333" font-weight="normal" font-family='"Liberation Sans", sans-serif' text-anchor="start" font-style="normal" >Temp (°C)</text>
<text x="6" y="178" font-size="2.6" fill="#333" font-weight="normal" font-family='"Liberation Sans", sans-serif' text-anchor="start" font-style="normal" >Pressure (psi)</text>
<text x="25" y="171" font-size="2.6" fill="#333" font-weight="normal" font-family='"Liberation Sans", sans-serif' text-anchor="middle" font-style="normal" >0</text>
<text x="25" y="174.5" font-size="2.6" fill="#333" font-weight="normal" font-family='"Liberation Sans", sans-serif' text-anchor="middle" font-style="normal" >25</text>
<text x="25" y="178" font-size="2.6" fill="#333" font-weight="normal" font-family='"Liberation Sans", sans-serif' text-anchor="middle" font-style="normal" >100</text>
<text x="38" y="171" font-size="2.6" fill="#333" font-weight="normal" font-family='"Liberation Sans", sans-serif' text-anchor="middle" font-style="normal" >10</text>
<text x="38" y="174.5" font-size="2.6" fill="#333" font-weight="normal" font-family='"Liberation Sans", sans-serif' text-anchor="middle" font-style="normal" >60</text>
<text x="38" y="178" font-size="2.6" fill="#333" font-weight="normal" font-family='"Liberation Sans", sans-serif' text-anchor="middle" font-style="normal" >100</text>
<text x="50" y="171" font-size="2.6" fill="#333" font-weight="normal" font-family='"Liberation Sans", sans-serif' text-anchor="middle" font-style="normal" >100</text>
<text x="50" y="174.5" font-size="2.6" fill="#333" font-weight="normal" font-family='"Liberation Sans", sans-serif' text-anchor="middle" font-style="normal" >60</text>
<text x="50" y="178" font-size="2.6" fill="#333" font-weight="normal" font-family='"Liberation Sans", sans-serif' text-anchor="middle" font-style="normal" >0</text>
<text x="62.6" y="171" font-size="2.6" fill="#333" font-weight="normal" font-family='"Liberation Sans", sans-serif' text-anchor="middle" font-style="normal" >100</text>
<text x="62.6" y="174.5" font-size="2.6" fill="#333" font-weight="normal" font-family='"Liberation Sans", sans-serif' text-anchor="middle" font-style="normal" >60</text>
<text x="62.6" y="178" font-size="2.6" fill="#333" font-weight="normal" font-family='"Liberation Sans", sans-serif' text-anchor="middle" font-style="normal" >500</text>
<text x="74.6" y="171" font-size="2.6" fill="#333" font-weight="normal" font-family='"Liberation Sans", sans-serif' text-anchor="middle" font-style="normal" >100</text>
<text x="74.6" y="174.5" font-size="2.6" fill="#333" font-weight="normal" font-family='"Liberation Sans", sans-serif' text-anchor="middle" font-style="normal" >150</text>
<text x="74.6" y="178" font-size="2.6" fill="#333" font-weight="normal" font-family='"Liberation Sans", sans-serif' text-anchor="middle" font-style="normal" >500</text>
<text x="87" y="171" font-size="2.6" fill="#333" font-weight="normal" font-family='"Liberation Sans", sans-serif' text-anchor="middle" font-style="normal" >100 %</text>
<text x="87" y="174.5" font-size="2.6" fill="#333" font-weight="normal" font-family='"Liberation Sans", sans-serif' text-anchor="middle" font-style="normal" >60</text>
<text x="87" y="178" font-size="2.6" fill="#333" font-weight="normal" font-family='"Liberation Sans", sans-serif' text-anchor="middle" font-style="normal" >0</text>
<text x="99.4" y="171" font-size="2.6" fill="#333" font-weight="normal" font-family='"Liberation Sans", sans-serif' text-anchor="middle" font-style="normal" >100 %</text>
<text x="99.4" y="174.5" font-size="2.6" fill="#333" font-weight="normal" font-family='"Liberation Sans", sans-serif' text-anchor="middle" font-style="normal" >60</text>
<text x="99.4" y="178" font-size="2.6" fill="#333" font-weight="normal" font-family='"Liberation Sans", sans-serif' text-anchor="middle" font-style="normal" >750</text>
<rect x="36" y="175.5" width="6" height="3.5" fill="#fbd8ec" opacity="0.8"/>
<rect x="50" y="175.5" width="6" height="3.5" fill="#fbd8ec" opacity="0.8"/>
<rect x="62" y="175.5" width="6" height="3.5" fill="#fbd8ec" opacity="0.8"/>
<rect x="75" y="175.5" width="6" height="3.5" fill="#fbd8ec" opacity="0.8"/>
<rect x="87" y="175.5" width="6" height="3.5" fill="#fbd8ec" opacity="0.8"/>
<rect x="99" y="175.5" width="6" height="3.5" fill="#fbd8ec" opacity="0.8"/>
<rect x="126.6" y="176" width="6.599999999999994" height="5.2" fill="#c4f4f2" />
<rect x="136.5" y="176" width="6.5" height="5.2" fill="#c4f4f2" />
<rect x="147.9" y="176" width="6.599999999999994" height="5.2" fill="#c4f4f2" />
<rect x="157.7" y="176" width="6.600000000000023" height="5.2" fill="#c4f4f2" />
<rect x="168.4" y="176" width="5.699999999999989" height="5.2" fill="#c4f4f2" />
<rect x="178.2" y="176" width="7.400000000000006" height="5.2" fill="#e0f8f8" />
<rect x="188" y="176" width="7.400000000000006" height="5.2" fill="#fbd8ec" />
<rect x="199.5" y="176" width="5.699999999999989" height="5.2" fill="#fbd8ec" />
<rect x="210" y="176" width="5" height="5.2" fill="#fbd8ec" />
<rect x="127.2" y="97.9" width="84.8" height="71.4" fill="url(#ebg)" stroke="#555" stroke-width="0.5"/>
<rect x="143" y="111.5" width="4.2" height="20.5" fill="#b0f4f0" opacity="0.75"/>
<rect x="148.2" y="111.5" width="4.2" height="20.5" fill="#f6c8ec" opacity="0.75"/>
<rect x="153.39999999999998" y="111.5" width="4.2" height="20.5" fill="#b0f4f0" opacity="0.75"/>
<rect x="158.59999999999997" y="111.5" width="4.2" height="20.5" fill="#f6c8ec" opacity="0.75"/>
<rect x="163.79999999999995" y="111.5" width="4.2" height="20.5" fill="#b0f4f0" opacity="0.75"/>
<rect x="168.99999999999994" y="111.5" width="4.2" height="20.5" fill="#f6c8ec" opacity="0.75"/>
<rect x="174.19999999999993" y="111.5" width="4.2" height="20.5" fill="#b0f4f0" opacity="0.75"/>
<rect x="179.39999999999992" y="111.5" width="4.2" height="20.5" fill="#f6c8ec" opacity="0.75"/>
<rect x="184.5999999999999" y="111.5" width="4.2" height="20.5" fill="#b0f4f0" opacity="0.75"/>
<rect x="189.7999999999999" y="111.5" width="4.2" height="20.5" fill="#f6c8ec" opacity="0.75"/>
<rect x="194.9999999999999" y="111.5" width="4.2" height="20.5" fill="#b0f4f0" opacity="0.75"/>
<rect x="200.19999999999987" y="111.5" width="4.2" height="20.5" fill="#f6c8ec" opacity="0.75"/>
<rect x="205.39999999999986" y="111.5" width="4.2" height="20.5" fill="#b0f4f0" opacity="0.75"/>
<rect x="210.59999999999985" y="111.5" width="4.2" height="20.5" fill="#f6c8ec" opacity="0.75"/>
<text x="125.7" y="99.2" font-size="3.3" fill="#333" font-weight="bold" font-family='"Liberation Serif", serif' text-anchor="end" font-style="normal" >0.05</text>
<text x="125.7" y="113.48" font-size="3.3" fill="#333" font-weight="bold" font-family='"Liberation Serif", serif' text-anchor="end" font-style="normal" >0.04</text>
<text x="125.7" y="127.76" font-size="3.3" fill="#333" font-weight="bold" font-family='"Liberation Serif", serif' text-anchor="end" font-style="normal" >0.03</text>
<text x="125.7" y="142.04000000000002" font-size="3.3" fill="#333" font-weight="bold" font-family='"Liberation Serif", serif' text-anchor="end" font-style="normal" >0.02</text>
<text x="125.7" y="156.32000000000002" font-size="3.3" fill="#333" font-weight="bold" font-family='"Liberation Serif", serif' text-anchor="end" font-style="normal" >0.01</text>
<text x="125.7" y="170.60000000000002" font-size="3.3" fill="#333" font-weight="bold" font-family='"Liberation Serif", serif' text-anchor="end" font-style="normal" >0.00</text>
<text x="116" y="134" font-size="3.3" fill="#333" font-weight="bold" font-family='"Liberation Serif", serif' text-anchor="middle" font-style="normal" transform="rotate(-90 116 134)">Corrosion rate(mm/y)</text>
<rect x="127.5" y="143" width="4" height="17" fill="#f6c8ec" opacity="0.55"/>
<rect x="131.8" y="143" width="4" height="17" fill="#a8f4ee" opacity="0.55"/>
<rect x="136.10000000000002" y="143" width="4" height="17" fill="#f6c8ec" opacity="0.55"/>
<rect x="140.40000000000003" y="143" width="4" height="17" fill="#a8f4ee" opacity="0.55"/>
<rect x="144.70000000000005" y="143" width="4" height="17" fill="#f6c8ec" opacity="0.55"/>
<rect x="149.00000000000006" y="143" width="4" height="17" fill="#a8f4ee" opacity="0.55"/>
<rect x="153.30000000000007" y="143" width="4" height="17" fill="#f6c8ec" opacity="0.55"/>
<rect x="157.60000000000008" y="143" width="4" height="17" fill="#a8f4ee" opacity="0.55"/>
<rect x="161.9000000000001" y="143" width="4" height="17" fill="#f6c8ec" opacity="0.55"/>
<rect x="166.2000000000001" y="143" width="4" height="17" fill="#a8f4ee" opacity="0.55"/>
<rect x="170.5000000000001" y="143" width="4" height="17" fill="#f6c8ec" opacity="0.55"/>
<rect x="174.80000000000013" y="143" width="4" height="17" fill="#a8f4ee" opacity="0.55"/>
<rect x="179.10000000000014" y="143" width="4" height="17" fill="#f6c8ec" opacity="0.55"/>
<rect x="183.40000000000015" y="143" width="4" height="17" fill="#a8f4ee" opacity="0.55"/>
<rect x="187.70000000000016" y="143" width="4" height="17" fill="#f6c8ec" opacity="0.55"/>
<rect x="192.00000000000017" y="143" width="4" height="17" fill="#a8f4ee" opacity="0.55"/>
<rect x="196.30000000000018" y="143" width="4" height="17" fill="#f6c8ec" opacity="0.55"/>
<rect x="200.6000000000002" y="143" width="4" height="17" fill="#a8f4ee" opacity="0.55"/>
<rect x="204.9000000000002" y="143" width="4" height="17" fill="#f6c8ec" opacity="0.55"/>
<rect x="209.20000000000022" y="143" width="4" height="17" fill="#a8f4ee" opacity="0.55"/>
<rect x="129.5" y="153.8" width="3.7" height="15.5" fill="#c8cc98" opacity="0.92"/>
<rect x="133.4" y="153" width="3.7" height="16.30000000000001" fill="#a8b0a8" opacity="0.92"/>
<rect x="137.3" y="155.5" width="3.7" height="13.800000000000011" fill="#a8b0c8" opacity="0.92"/>
<rect x="141.2" y="154" width="3.7" height="15.300000000000011" fill="#c8e8a0" opacity="0.92"/>
<rect x="151.2" y="153.5" width="3.7" height="15.800000000000011" fill="#c8cc98" opacity="0.92"/>
<rect x="155.1" y="153.5" width="3.7" height="15.800000000000011" fill="#a8b0a8" opacity="0.92"/>
<rect x="159.0" y="154.5" width="3.7" height="14.800000000000011" fill="#a8b0c8" opacity="0.92"/>
<rect x="162.89999999999998" y="153.5" width="3.7" height="15.800000000000011" fill="#c8e8a0" opacity="0.92"/>
<rect x="172.3" y="150.5" width="3.7" height="18.80000000000001" fill="#c8cc98" opacity="0.92"/>
<rect x="176.20000000000002" y="153" width="3.7" height="16.30000000000001" fill="#a8b0a8" opacity="0.92"/>
<rect x="180.10000000000002" y="155" width="3.7" height="14.300000000000011" fill="#a8b0c8" opacity="0.92"/>
<rect x="184.0" y="153.5" width="3.7" height="15.800000000000011" fill="#c8e8a0" opacity="0.92"/>
<rect x="193.4" y="154" width="3.7" height="15.300000000000011" fill="#c8cc98" opacity="0.92"/>
<rect x="197.3" y="120.3" width="3.7" height="49.000000000000014" fill="#a8b0a8" opacity="0.92"/>
<rect x="201.20000000000002" y="158" width="3.7" height="11.300000000000011" fill="#a8b0c8" opacity="0.92"/>
<rect x="205.1" y="127.2" width="3.7" height="42.10000000000001" fill="#c8e8a0" opacity="0.92"/>
<rect x="131.9" y="101.9" width="6.6" height="3.2" fill="#c8cc98" stroke="#999" stroke-width="0.3"/>
<text x="139.4" y="105" font-size="4.3" fill="#333" font-weight="bold" font-family='"Liberation Serif", serif' text-anchor="start" font-style="normal" >O<tspan font-size="2.3" dy="1">2</tspan></text>
<rect x="147" y="101.9" width="6.6" height="3.2" fill="#a8b0a8" stroke="#999" stroke-width="0.3"/>
<text x="154.5" y="105" font-size="4.3" fill="#333" font-weight="bold" font-family='"Liberation Serif", serif' text-anchor="start" font-style="normal" >H<tspan font-size="2.3" dy="1">2</tspan><tspan dy="-1">S</tspan></text>
<rect x="162.8" y="101.9" width="6.6" height="3.2" fill="#a8b0c8" stroke="#999" stroke-width="0.3"/>
<text x="170.3" y="105" font-size="4.3" fill="#333" font-weight="bold" font-family='"Liberation Serif", serif' text-anchor="start" font-style="normal" >SO<tspan font-size="2.3" dy="1">2</tspan></text>
<rect x="180" y="101.9" width="6.6" height="3.2" fill="#c8e8a0" stroke="#999" stroke-width="0.3"/>
<text x="187.5" y="105" font-size="4.3" fill="#333" font-weight="bold" font-family='"Liberation Serif", serif' text-anchor="start" font-style="normal" >NO<tspan font-size="2.3" dy="1">2</tspan></text>
<text x="131.9" y="111.8" font-size="4.2" fill="#222" font-weight="bold" font-family='"Liberation Serif", serif' text-anchor="start" font-style="normal" >10 MPa</text>
<text x="131.9" y="116.6" font-size="4.2" fill="#222" font-weight="bold" font-family='"Liberation Serif", serif' text-anchor="start" font-style="normal" >50°C</text>
<text x="131.9" y="121.6" font-size="4.2" fill="#222" font-weight="bold" font-family='"Liberation Serif", serif' text-anchor="start" font-style="normal" >100 ppmv <tspan fill="#c02040">H</tspan><tspan font-size="2.6" dy="1" fill="#c02040">2</tspan><tspan dy="-1" fill="#c02040">O</tspan></text>
<text x="131.6" y="131" font-size="8.5" fill="#222" font-weight="bold" font-family='"Liberation Serif", serif' text-anchor="start" font-style="normal" >(e)</text>
<text x="138.9" y="173.6" font-size="3.4" fill="#333" font-weight="bold" font-family='"Liberation Serif", serif' text-anchor="middle" font-style="normal" >50</text>
<text x="159.4" y="173.6" font-size="3.4" fill="#333" font-weight="bold" font-family='"Liberation Serif", serif' text-anchor="middle" font-style="normal" >200</text>
<text x="181.5" y="173.6" font-size="3.4" fill="#333" font-weight="bold" font-family='"Liberation Serif", serif' text-anchor="middle" font-style="normal" >500</text>
<text x="201.1" y="173.6" font-size="3.4" fill="#333" font-weight="bold" font-family='"Liberation Serif", serif' text-anchor="middle" font-style="normal" >1000</text>
<text x="168.7" y="177.6" font-size="3.5" fill="#3a1a2a" font-weight="bold" font-family='"Liberation Serif", serif' text-anchor="middle" font-style="normal" textLength="50" lengthAdjust="spacingAndGlyphs">Impurity concentration(ppmv)</text>
<rect x="214" y="95" width="4" height="70" fill="#d8e8f8" opacity="0.7"/>
<rect x="232.3" y="100.5" width="92.09999999999997" height="69.30000000000001" fill="#fffdfd" stroke="#444" stroke-width="0.5"/>
<rect x="236" y="101" width="30" height="36" fill="#fdeef6" opacity="0.7"/>
<rect x="242" y="101" width="4" height="60" fill="#e4fafa" opacity="0.9"/>
<text x="230.8" y="101.7" font-size="3" fill="#c03060" font-weight="normal" font-family='"Liberation Sans", sans-serif' text-anchor="end" font-style="normal" >0.24</text>
<text x="230.8" y="107.47500000000001" font-size="3" fill="#c03060" font-weight="normal" font-family='"Liberation Sans", sans-serif' text-anchor="end" font-style="normal" >0.22</text>
<text x="230.8" y="113.25" font-size="3" fill="#c03060" font-weight="normal" font-family='"Liberation Sans", sans-serif' text-anchor="end" font-style="normal" >0.20</text>
<text x="230.8" y="119.025" font-size="3" fill="#c03060" font-weight="normal" font-family='"Liberation Sans", sans-serif' text-anchor="end" font-style="normal" >0.18</text>
<text x="230.8" y="124.80000000000001" font-size="3" fill="#c03060" font-weight="normal" font-family='"Liberation Sans", sans-serif' text-anchor="end" font-style="normal" >0.16</text>
<text x="230.8" y="130.575" font-size="3" fill="#c03060" font-weight="normal" font-family='"Liberation Sans", sans-serif' text-anchor="end" font-style="normal" >0.14</text>
<text x="230.8" y="136.35" font-size="3" fill="#c03060" font-weight="normal" font-family='"Liberation Sans", sans-serif' text-anchor="end" font-style="normal" >0.12</text>
<text x="230.8" y="142.125" font-size="3" fill="#c03060" font-weight="normal" font-family='"Liberation Sans", sans-serif' text-anchor="end" font-style="normal" >0.10</text>
<text x="230.8" y="147.9" font-size="3" fill="#c03060" font-weight="normal" font-family='"Liberation Sans", sans-serif' text-anchor="end" font-style="normal" >0.08</text>
<text x="230.8" y="153.67499999999998" font-size="3" fill="#c03060" font-weight="normal" font-family='"Liberation Sans", sans-serif' text-anchor="end" font-style="normal" >0.06</text>
<text x="230.8" y="159.45" font-size="3" fill="#c03060" font-weight="normal" font-family='"Liberation Sans", sans-serif' text-anchor="end" font-style="normal" >0.04</text>
<text x="230.8" y="165.225" font-size="3" fill="#c03060" font-weight="normal" font-family='"Liberation Sans", sans-serif' text-anchor="end" font-style="normal" >0.02</text>
<text x="230.8" y="171.0" font-size="3" fill="#c03060" font-weight="normal" font-family='"Liberation Sans", sans-serif' text-anchor="end" font-style="normal" >0.00</text>
<text x="325.9" y="105.7" font-size="3" fill="#333" font-weight="normal" font-family='"Liberation Sans", sans-serif' text-anchor="start" font-style="normal" >800</text>
<text x="325.9" y="113.8625" font-size="3" fill="#333" font-weight="normal" font-family='"Liberation Sans", sans-serif' text-anchor="start" font-style="normal" >700</text>
<text x="325.9" y="122.025" font-size="3" fill="#333" font-weight="normal" font-family='"Liberation Sans", sans-serif' text-anchor="start" font-style="normal" >600</text>
<text x="325.9" y="130.1875" font-size="3" fill="#333" font-weight="normal" font-family='"Liberation Sans", sans-serif' text-anchor="start" font-style="normal" >500</text>
<text x="325.9" y="138.35" font-size="3" fill="#333" font-weight="normal" font-family='"Liberation Sans", sans-serif' text-anchor="start" font-style="normal" >400</text>
<text x="325.9" y="146.5125" font-size="3" fill="#333" font-weight="normal" font-family='"Liberation Sans", sans-serif' text-anchor="start" font-style="normal" >300</text>
<text x="325.9" y="154.675" font-size="3" fill="#333" font-weight="normal" font-family='"Liberation Sans", sans-serif' text-anchor="start" font-style="normal" >200</text>
<text x="325.9" y="162.8375" font-size="3" fill="#333" font-weight="normal" font-family='"Liberation Sans", sans-serif' text-anchor="start" font-style="normal" >100</text>
<text x="325.9" y="171.0" font-size="3" fill="#333" font-weight="normal" font-family='"Liberation Sans", sans-serif' text-anchor="start" font-style="normal" >0</text>
<text x="220" y="135" font-size="3.3" fill="#d03060" font-weight="normal" font-family='"Liberation Sans", sans-serif' text-anchor="middle" font-style="normal" transform="rotate(-90 220 135)">Overall corrosion rate(mm/y)</text>
<text x="336" y="135" font-size="3.3" fill="#333" font-weight="normal" font-family='"Liberation Sans", sans-serif' text-anchor="middle" font-style="normal" transform="rotate(-90 336 135)">System density(kg/m³)</text>
<rect x="235.5" y="142.5" width="9.699999999999989" height="27.30000000000001" fill="#eaf21e" stroke="#b8b800" stroke-width="0.4"/>
<line x1="240.35" y1="140.5" x2="240.35" y2="144.5" stroke="#555" stroke-width="0.4" />
<rect x="253.9" y="160.2" width="10.099999999999994" height="9.600000000000023" fill="#eaf21e" stroke="#b8b800" stroke-width="0.4"/>
<line x1="258.95" y1="158.2" x2="258.95" y2="162.2" stroke="#555" stroke-width="0.4" />
<rect x="272.5" y="166" width="10.199999999999989" height="3.8000000000000114" fill="#eaf21e" stroke="#b8b800" stroke-width="0.4"/>
<line x1="277.6" y1="164" x2="277.6" y2="168" stroke="#555" stroke-width="0.4" />
<rect x="291" y="148.6" width="10.399999999999977" height="21.200000000000017" fill="#eaf21e" stroke="#b8b800" stroke-width="0.4"/>
<line x1="296.2" y1="146.6" x2="296.2" y2="150.6" stroke="#555" stroke-width="0.4" />
<rect x="310" y="114.7" width="10.199999999999989" height="55.10000000000001" fill="#eaf21e" stroke="#b8b800" stroke-width="0.4"/>
<line x1="315.1" y1="112.7" x2="315.1" y2="116.7" stroke="#555" stroke-width="0.4" />
<polyline points="240.3,109 259,152.3 277.6,156.8 296,111.3 315,135.2" fill="none" stroke="#8a7a7a" stroke-width="0.5"/>
<circle cx="240.3" cy="109" r="0.9" fill="#444"/>
<circle cx="259" cy="152.3" r="0.9" fill="#444"/>
<circle cx="277.6" cy="156.8" r="0.9" fill="#444"/>
<circle cx="296" cy="111.3" r="0.9" fill="#444"/>
<circle cx="315" cy="135.2" r="0.9" fill="#444"/>
<rect x="234.5" y="101" width="7.3" height="3.5" fill="#eaf21e" stroke="#b8b800" stroke-width="0.3"/>
<text x="243" y="104.2" font-size="3" fill="#333" font-weight="normal" font-family='"Liberation Sans", sans-serif' text-anchor="start" font-style="normal" >Corrosion rate</text>
<line x1="263" y1="102.8" x2="268" y2="102.8" stroke="#777" stroke-width="0.4" />
<circle cx="265.5" cy="102.8" r="0.8" fill="#444"/>
<text x="270" y="104.2" font-size="3" fill="#333" font-weight="normal" font-family='"Liberation Sans", sans-serif' text-anchor="start" font-style="normal" >System density</text>
<text x="249" y="115.2" font-size="7" fill="#111" font-weight="bold" font-family='"Liberation Sans", sans-serif' text-anchor="start" font-style="normal" >(f)</text>
<text x="240.35" y="173" font-size="2.7" fill="#333" font-weight="normal" font-family='"Liberation Sans", sans-serif' text-anchor="middle" font-style="normal" >0°C/3.8MPa</text>
<text x="258.95" y="173" font-size="2.7" fill="#333" font-weight="normal" font-family='"Liberation Sans", sans-serif' text-anchor="middle" font-style="normal" >35°C/3.8MPa</text>
<text x="277.6" y="173" font-size="2.7" fill="#333" font-weight="normal" font-family='"Liberation Sans", sans-serif' text-anchor="middle" font-style="normal" >35°C/8MPa</text>
<text x="296.2" y="173" font-size="2.7" fill="#333" font-weight="normal" font-family='"Liberation Sans", sans-serif' text-anchor="middle" font-style="normal" >35°C/10MPa</text>
<text x="315.1" y="173" font-size="2.7" fill="#333" font-weight="normal" font-family='"Liberation Sans", sans-serif' text-anchor="middle" font-style="normal" >35°C/12MPa</text>
<text x="278" y="178.5" font-size="3.6" fill="#222" font-weight="normal" font-family='"Liberation Sans", sans-serif' text-anchor="middle" font-style="normal" >Test conditions</text>
<rect x="224" y="140" width="8" height="20" fill="#fde4f0" opacity="0.7"/>
<defs>
<clipPath id="cg1"><rect x="336.5" y="98.8" width="102.2" height="86.7"/></clipPath>
<clipPath id="cg2"><rect x="440.8" y="98.8" width="102.6" height="86.7"/></clipPath>
<clipPath id="ck1"><rect x="336.5" y="187.7" width="102.2" height="96.6"/></clipPath>
<clipPath id="ck2"><rect x="440.8" y="187.7" width="102.6" height="96.6"/></clipPath>
<filter id="nz_k1" x="0" y="0" width="100%" height="100%" color-interpolation-filters="sRGB">
  <feTurbulence type="fractalNoise" baseFrequency="0.9" numOctaves="2" seed="7" result="t"/>
  <feColorMatrix in="t" type="matrix" values="1 0 0 0 0  1 0 0 0 0  1 0 0 0 0  0 0 0 0 1" result="g"/>
  <feComponentTransfer in="g" result="c"><feFuncR type="linear" slope="0.5" intercept="0.02"/><feFuncG type="linear" slope="0.5" intercept="0.02"/><feFuncB type="linear" slope="0.5" intercept="0.02"/></feComponentTransfer><feGaussianBlur in="c" stdDeviation="0.35"/>
</filter>
<filter id="nz_v" x="0" y="0" width="100%" height="100%" color-interpolation-filters="sRGB">
  <feTurbulence type="fractalNoise" baseFrequency="0.3 0.008" numOctaves="2" seed="11" result="t"/>
  <feColorMatrix in="t" type="matrix" values="1 0 0 0 0  1 0 0 0 0  1 0 0 0 0  0 0 0 0 1" result="g"/>
  <feComponentTransfer in="g"><feFuncR type="linear" slope="0.5" intercept="0.07"/><feFuncG type="linear" slope="0.5" intercept="0.07"/><feFuncB type="linear" slope="0.5" intercept="0.07"/></feComponentTransfer>
</filter>
<filter id="nz_g1" x="0" y="0" width="100%" height="100%" color-interpolation-filters="sRGB">
  <feTurbulence type="fractalNoise" baseFrequency="0.5" numOctaves="3" seed="4" result="t"/>
  <feColorMatrix in="t" type="matrix" values="1 0 0 0 0  1 0 0 0 0  1 0 0 0 0  0 0 0 0 1" result="g"/>
  <feComponentTransfer in="g"><feFuncR type="linear" slope="0.6" intercept="0.15"/><feFuncG type="linear" slope="0.6" intercept="0.15"/><feFuncB type="linear" slope="0.6" intercept="0.15"/></feComponentTransfer>
</filter>
<filter id="nz_s" x="0" y="0" width="100%" height="100%" color-interpolation-filters="sRGB">
  <feTurbulence type="fractalNoise" baseFrequency="0.7" numOctaves="2" seed="9" result="t"/>
  <feColorMatrix in="t" type="matrix" values="1 0 0 0 0  1 0 0 0 0  1 0 0 0 0  0 0 0 0 1" result="g"/>
  <feComponentTransfer in="g"><feFuncR type="linear" slope="0.5" intercept="0.3"/><feFuncG type="linear" slope="0.5" intercept="0.3"/><feFuncB type="linear" slope="0.5" intercept="0.3"/></feComponentTransfer>
</filter>
<filter id="spk" x="0" y="0" width="100%" height="100%" color-interpolation-filters="sRGB">
  <feTurbulence type="fractalNoise" baseFrequency="0.5" numOctaves="1" seed="21" result="t"/>
  <feColorMatrix in="t" type="matrix" values="0 0 0 0 1  0 0 0 0 1  0 0 0 0 1  1 0 0 0 0" result="w"/>
  <feComponentTransfer in="w"><feFuncA type="discrete" tableValues="0 0 0 0 0 0 0 0 0 0.5 1 1 1"/></feComponentTransfer>
</filter>
<filter id="bl1" x="-10%" y="-10%" width="120%" height="120%"><feGaussianBlur stdDeviation="0.8"/></filter>
<filter id="bl2"><feGaussianBlur stdDeviation="0.6"/></filter>
<radialGradient id="blob" cx="0.45" cy="0.45" r="0.55">
  <stop offset="0" stop-color="#7e7e7e"/><stop offset="0.75" stop-color="#858585"/><stop offset="0.92" stop-color="#a8a8a8"/><stop offset="1" stop-color="#5a5a5a"/>
</radialGradient>
<radialGradient id="blob2" cx="0.5" cy="0.5" r="0.55">
  <stop offset="0" stop-color="#6a6a6a"/><stop offset="0.8" stop-color="#787878"/><stop offset="0.93" stop-color="#a0a0a0"/><stop offset="1" stop-color="#555"/>
</radialGradient>
</defs>
<g clip-path="url(#cg1)">
<rect x="336.5" y="98.8" width="102.2" height="86.7" fill="#727272" />
<g filter="url(#bl1)">
<rect x="341" y="119.5" width="19" height="22" fill="#555555" />
<rect x="336.5" y="119.5" width="4.5" height="40" fill="#7e7e7e" />
<rect x="363" y="98.8" width="16" height="16" fill="#606060" />
<rect x="425" y="108" width="11.5" height="30" fill="#464646" />
<rect x="436.5" y="98.8" width="2.2" height="86.7" fill="#8d8d8d" />
<rect x="336.5" y="149" width="24" height="37" fill="#7c7c7c" />
<rect x="421" y="137" width="17.7" height="49" fill="#666666" />
<rect x="398" y="166" width="24" height="20" fill="#747474" />
<ellipse cx="350" cy="108" rx="13.5" ry="10.5" fill="#929292"/>
<path d="M338 114 C344 121, 354 122, 360 116 C364 111, 364 104, 362 99" fill="none" stroke="#c8c8c8" stroke-width="2"/>
<path d="M396 121 C396 111, 404 104, 413 103.5 C421 103.5, 428 109, 428 119 C428 127, 421 134, 412 134 C403 134, 396 129, 396 121 Z" fill="#848484"/>
<path d="M397 115 C401 107, 408 103.5, 415 103.5 C421 103.8, 425 107, 427 112" fill="none" stroke="#acacac" stroke-width="1.6"/>
<ellipse cx="409" cy="147" rx="10" ry="21" fill="#828282"/>
<path d="M359 140 C359 125, 368 116, 380 115 C392 114, 400 120, 401 130 L402 150 C402 162, 394 168, 380 168 C368 168, 360 160, 359 150 Z" fill="#8b8b8b"/>
<path d="M360 150 C359 134, 364 122, 374 117 C382 114, 392 114, 398 119" fill="none" stroke="#aaaaaa" stroke-width="2"/>
<rect x="397" y="122" width="1.6" height="38" fill="#a8a8a8" />
<path d="M401 135 C402 150, 400 162, 392 167 C386 169, 376 169, 368 166" fill="none" stroke="#606060" stroke-width="1.4"/>
<path d="M428 119 C428 127, 421 134, 412 134.5 C406 134.5, 400 131, 397.5 126" fill="none" stroke="#5a5a5a" stroke-width="1.2"/>
<path d="M372 100 C375 104, 376 108, 380 112" fill="none" stroke="#8a8a8a" stroke-width="1"/>
<ellipse cx="377" cy="179" rx="17" ry="12" fill="#9c9c9c"/>
<path d="M361 186 C362 176, 368 169, 378 167 C385 166, 390 168, 394 172" fill="none" stroke="#cccccc" stroke-width="1.8"/>
</g>
<circle cx="418" cy="109.3" r="1.4" fill="#e0e0e0" filter="url(#bl2)"/>
<rect x="336.5" y="98.8" width="102.2" height="86.7" fill="#000" filter="url(#nz_g1)" opacity="0.25"/>
<rect x="336.5" y="140" width="26" height="46" fill="#000" filter="url(#spk)" opacity="0.35"/>
<rect x="418" y="120" width="21" height="66" fill="#000" filter="url(#spk)" opacity="0.35"/>
<rect x="437.7" y="98.8" width="1" height="86.7" fill="#b8b8b8" />
</g>
<rect x="337.2" y="100.3" width="14.6" height="7.8" fill="#fff" />
<text x="337.6" y="107.3" font-size="8" fill="#000" font-weight="bold" font-family='"Liberation Serif", serif' text-anchor="start" font-style="normal" textLength="13.8" lengthAdjust="spacingAndGlyphs">(g1)</text>
<g clip-path="url(#cg2)">
<rect x="440.8" y="98.8" width="102.6" height="86.7" fill="#cecece" />
<rect x="440.8" y="98.8" width="102.6" height="86.7" fill="#000" filter="url(#nz_s)" opacity="0.08"/>
<path d="M440.8 98.8 H543.4 V140.7 L525.2 142.1 C522 142.2, 519 142.7, 515.6 143.5 C512 144.5, 509 145.5, 504.5 147 C501 147.5, 498 148.5, 494.2 149 C492 148, 490 145, 488 142.5 L440.8 142.2 Z" fill="#1c1c1c"/>
<path d="M518 139 C524 137.5, 530 138, 536 136.5 C539 136, 541 136.5, 543.4 136.3 V140.7 L525.2 142.1 L518 142.8 Z" fill="#7a7a7a"/>
<circle cx="514.9" cy="133.1" r="9" fill="#8c8c8c"/>
<circle cx="514.2" cy="132.3" r="7" fill="#959595"/>
<path d="M488 142.5 L489.5 138 L490.7 135.9 L493 138.5 L496 137 L499 139 L502 136.5 L506 138.5 L509 137.5 L513 139.5 L517 139 L521 140 L525 139.5 L525.2 142.1 C522 142.2, 519 142.7, 515.6 143.5 C512 144.5, 509 145.5, 504.5 147 C501 147.5, 498 148.5, 494.2 149 C492 148, 490 145, 488 142.5 Z" fill="#5e5e5e"/>
<clipPath id="cg2p"><path d="M488 142.5 L489.5 138 L490.7 135.9 L493 138.5 L496 137 L499 139 L502 136.5 L506 138.5 L509 137.5 L513 139.5 L517 139 L521 140 L525 139.5 L525.2 142.1 C522 142.2, 519 142.7, 515.6 143.5 C512 144.5, 509 145.5, 504.5 147 C501 147.5, 498 148.5, 494.2 149 C492 148, 490 145, 488 142.5 Z"/></clipPath>
<rect x="486" y="134" width="42" height="16" fill="#000" filter="url(#nz_g1)" opacity="0.5" clip-path="url(#cg2p)"/>
<rect x="542.4" y="98.8" width="1" height="86.7" fill="#9a9a9a" />
</g>
<rect x="442.8" y="100.8" width="14.8" height="7.6" fill="#fff" rx="1"/>
<text x="443.2" y="107.6" font-size="8" fill="#000" font-weight="bold" font-family='"Liberation Serif", serif' text-anchor="start" font-style="normal" textLength="14" lengthAdjust="spacingAndGlyphs">(g2)</text>
<text x="541.5" y="105.5" font-size="4.6" fill="#b8b8b8" font-weight="bold" font-family='"Liberation Sans", sans-serif' text-anchor="end" font-style="normal" >Epoxy</text>
<text x="443" y="131" font-size="4.6" fill="#e8e8e8" font-weight="bold" font-family='"Liberation Sans", sans-serif' text-anchor="start" font-style="normal" textLength="42" lengthAdjust="spacingAndGlyphs">Corrosion products</text>
<line x1="455" y1="132.5" x2="455" y2="137" stroke="#ddd" stroke-width="0.6" />
<text x="484.5" y="157.6" font-size="4.4" fill="#222" font-weight="normal" font-family='"Liberation Sans", sans-serif' text-anchor="start" font-style="normal" >Fe</text>
<line x1="488.5" y1="153.5" x2="493.5" y2="148.5" stroke="#222" stroke-width="0.55" />
<text x="443" y="182" font-size="4.3" fill="#333" font-weight="normal" font-family='"Liberation Sans", sans-serif' text-anchor="start" font-style="normal" >Steel</text>
<text x="540" y="181.5" font-size="4.3" fill="#222" font-weight="normal" font-family='"Liberation Sans", sans-serif' text-anchor="end" font-style="normal" >10 μm</text>
<line x1="527" y1="183.5" x2="540" y2="183.5" stroke="#fff" stroke-width="0.6" />
<g clip-path="url(#ck1)">
<rect x="336.5" y="187.7" width="102.2" height="96.6" fill="#434343" />
<rect x="336.5" y="187.7" width="102.2" height="96.6" fill="#000" filter="url(#nz_k1)" opacity="0.75"/>
<rect x="336.5" y="187.7" width="102.2" height="96.6" fill="#000" filter="url(#nz_v)" opacity="0.2"/>
<rect x="355" y="187.7" width="0.7" height="96.6" fill="#5a5a5a" opacity="0.6"/>
<rect x="368" y="187.7" width="0.7" height="96.6" fill="#5a5a5a" opacity="0.6"/>
<rect x="378" y="187.7" width="0.7" height="96.6" fill="#5a5a5a" opacity="0.6"/>
<rect x="392" y="187.7" width="0.7" height="96.6" fill="#5a5a5a" opacity="0.6"/>
<rect x="405" y="187.7" width="0.7" height="96.6" fill="#5a5a5a" opacity="0.6"/>
<rect x="420" y="187.7" width="0.7" height="96.6" fill="#5a5a5a" opacity="0.6"/>
<rect x="336.5" y="187.7" width="102.2" height="96.6" fill="#000" filter="url(#spk)" opacity="0.45"/>
</g>
<rect x="336.8" y="188.8" width="15.4" height="7.9" fill="#fff" />
<text x="337.2" y="195.9" font-size="8" fill="#000" font-weight="bold" font-family='"Liberation Serif", serif' text-anchor="start" font-style="normal" textLength="14.4" lengthAdjust="spacingAndGlyphs">(k1)</text>
<line x1="419" y1="278.8" x2="435.6" y2="278.8" stroke="#f0f0f0" stroke-width="1" />
<clipPath id="ck2L"><path d="M440.8 229.7 C450 229.5, 460 229.2, 469 229 C477 228.5, 485 227, 492 227.2 C497 227.5, 500 231, 503.6 231 C508 231, 514 228, 521 227.7 C528 227.8, 536 229.5, 543.4 230 V242.6 C520 242.8, 480 242.8, 440.8 242.6 Z"/></clipPath>
<filter id="blotch" x="0" y="0" width="100%" height="100%" color-interpolation-filters="sRGB"><feTurbulence type="fractalNoise" baseFrequency="0.25 0.4" numOctaves="3" seed="13" result="t"/><feColorMatrix in="t" type="matrix" values="1 0 0 0 0  1 0 0 0 0  1 0 0 0 0  0 0 0 0 1" result="g"/><feComponentTransfer in="g"><feFuncR type="linear" slope="1.2" intercept="-0.05"/><feFuncG type="linear" slope="1.2" intercept="-0.05"/><feFuncB type="linear" slope="1.2" intercept="-0.05"/></feComponentTransfer></filter>
<g clip-path="url(#ck2)">
<rect x="440.8" y="187.7" width="102.6" height="96.6" fill="#c2c2c2" />
<rect x="440.8" y="242.6" width="102.6" height="12" fill="#cacaca" />
<rect x="440.8" y="187.7" width="102.6" height="96.6" fill="#000" filter="url(#nz_s)" opacity="0.08"/>
<rect x="440.8" y="187.7" width="102.6" height="43.5" fill="#0b0b0b" />
<g clip-path="url(#ck2L)">
<rect x="440.8" y="224" width="102.6" height="20" fill="#8e8e8e" />
<rect x="440.8" y="224" width="102.6" height="20" fill="#000" filter="url(#blotch)" opacity="0.35"/>
</g>
<rect x="440.8" y="242.3" width="102.6" height="0.8" fill="#d0d0d0" />
<rect x="540.8" y="187.7" width="1" height="96.6" fill="#aaaaaa" />
</g>
<rect x="441.3" y="189.1" width="14.9" height="7.6" fill="#fff" rx="1"/>
<text x="441.7" y="195.9" font-size="8" fill="#000" font-weight="bold" font-family='"Liberation Serif", serif' text-anchor="start" font-style="normal" textLength="14.1" lengthAdjust="spacingAndGlyphs">(k2)</text>
<text x="541.5" y="195" font-size="4.6" fill="#b8b8b8" font-weight="bold" font-family='"Liberation Sans", sans-serif' text-anchor="end" font-style="normal" >Epoxy</text>
<text x="443" y="218" font-size="5" fill="#e0e0e0" font-weight="normal" font-family='"Liberation Serif", serif' text-anchor="start" font-style="normal" textLength="38.5" lengthAdjust="spacingAndGlyphs">Corrosion products</text>
<line x1="457.3" y1="220.5" x2="457.3" y2="229" stroke="#ddd" stroke-width="0.6" />
<text x="443" y="280.5" font-size="4.3" fill="#333" font-weight="normal" font-family='"Liberation Sans", sans-serif' text-anchor="start" font-style="normal" >Matrix</text>
<text x="537" y="279" font-size="4.3" fill="#222" font-weight="normal" font-family='"Liberation Sans", sans-serif' text-anchor="end" font-style="normal" >20 μm</text>
<line x1="523" y1="281" x2="538" y2="281" stroke="#fff" stroke-width="0.6" />
<rect x="17.1" y="184.4" width="77.30000000000001" height="80.20000000000002" fill="#fff" stroke="#777" stroke-width="0.4"/>
<rect x="40" y="184.5" width="54" height="20" fill="#eefcfb" opacity="0.6"/>
<text x="15.600000000000001" y="196.85714285714286" font-size="2.8" fill="#444" font-weight="normal" font-family='"Liberation Sans", sans-serif' text-anchor="end" font-style="normal" >0.3</text>
<text x="15.600000000000001" y="208.31428571428572" font-size="2.8" fill="#444" font-weight="normal" font-family='"Liberation Sans", sans-serif' text-anchor="end" font-style="normal" >0.25</text>
<text x="15.600000000000001" y="219.7714285714286" font-size="2.8" fill="#444" font-weight="normal" font-family='"Liberation Sans", sans-serif' text-anchor="end" font-style="normal" >0.2</text>
<text x="15.600000000000001" y="231.22857142857146" font-size="2.8" fill="#444" font-weight="normal" font-family='"Liberation Sans", sans-serif' text-anchor="end" font-style="normal" >0.15</text>
<text x="15.600000000000001" y="242.6857142857143" font-size="2.8" fill="#444" font-weight="normal" font-family='"Liberation Sans", sans-serif' text-anchor="end" font-style="normal" >0.1</text>
<text x="15.600000000000001" y="254.14285714285717" font-size="2.8" fill="#444" font-weight="normal" font-family='"Liberation Sans", sans-serif' text-anchor="end" font-style="normal" >0.05</text>
<text x="15.600000000000001" y="265.6" font-size="2.8" fill="#444" font-weight="normal" font-family='"Liberation Sans", sans-serif' text-anchor="end" font-style="normal" >0</text>
<text x="10" y="225" font-size="3" fill="#333" font-weight="normal" font-family='"Liberation Sans", sans-serif' text-anchor="middle" font-style="normal" transform="rotate(-90 10 225)">Corrosion rate [mm/y]</text>
<line x1="17.1" y1="207.4" x2="94.4" y2="207.4" stroke="#a8b890" stroke-width="0.7" />
<line x1="17.1" y1="236.3" x2="94.4" y2="236.3" stroke="#a8b890" stroke-width="0.7" />
<line x1="17.1" y1="257.8" x2="94.4" y2="257.8" stroke="#d0b090" stroke-width="0.7" />
<polyline points="24.8,259.1 56.4,208.2 94.4,194" fill="none" stroke="#3a3aa0" stroke-width="0.875" />
<polyline points="24.8,258 56.4,213.7 94.4,199" fill="none" stroke="#d8c040" stroke-width="0.875" />
<polyline points="24.8,262 56.4,208.2" fill="none" stroke="#d05040" stroke-width="0.625" />
<polyline points="24.8,245.4 56.4,232.7 94.4,223" fill="none" stroke="#e0a030" stroke-width="0.875" stroke-dasharray="1.5 1"/>
<polyline points="24.8,257.8 56.4,257.8 94.4,246.7" fill="none" stroke="#303060" stroke-width="0.75" stroke-dasharray="1.5 1"/>
<polyline points="24.8,262 56.4,258.5 94.4,253.6" fill="none" stroke="#303060" stroke-width="0.75" stroke-dasharray="1.5 1"/>
<polyline points="24.8,263 56.4,262.5 94.4,257.8" fill="none" stroke="#4040c0" stroke-width="1.0" />
<circle cx="24.8" cy="259.1" r="0.9" fill="#111"/>
<circle cx="56.4" cy="208.2" r="0.9" fill="#111"/>
<circle cx="94.4" cy="194" r="0.9" fill="#111"/>
<circle cx="56.4" cy="213.7" r="0.9" fill="#111"/>
<circle cx="94.4" cy="199" r="0.9" fill="#111"/>
<circle cx="24.8" cy="245.4" r="0.9" fill="#111"/>
<circle cx="56.4" cy="232.7" r="0.9" fill="#111"/>
<circle cx="94.4" cy="223" r="0.9" fill="#111"/>
<circle cx="24.8" cy="257.8" r="0.9" fill="#111"/>
<circle cx="56.4" cy="257.8" r="0.9" fill="#111"/>
<circle cx="94.4" cy="246.7" r="0.9" fill="#111"/>
<circle cx="94.4" cy="253.6" r="0.9" fill="#111"/>
<circle cx="24.8" cy="262" r="0.9" fill="#111"/>
<circle cx="56.4" cy="262.5" r="0.9" fill="#111"/>
<circle cx="94.4" cy="257.8" r="0.9" fill="#111"/>
<rect x="24" y="256" width="1.6" height="8" fill="#111" />
<rect x="19" y="186" width="13" height="13" fill="#fff" stroke="#777" stroke-width="0.3"/>
<line x1="20" y1="188.5" x2="24" y2="188.5" stroke="#d05070" stroke-width="0.6" />
<text x="25" y="189.5" font-size="2.2" fill="#444" font-weight="normal" font-family='"Liberation Sans", sans-serif' text-anchor="start" font-style="normal" >5000</text>
<line x1="20" y1="192.5" x2="24" y2="192.5" stroke="#d8c040" stroke-width="0.6" />
<text x="25" y="193.5" font-size="2.2" fill="#444" font-weight="normal" font-family='"Liberation Sans", sans-serif' text-anchor="start" font-style="normal" >500</text>
<line x1="20" y1="196.5" x2="24" y2="196.5" stroke="#4040c0" stroke-width="0.6" />
<text x="25" y="197.5" font-size="2.2" fill="#444" font-weight="normal" font-family='"Liberation Sans", sans-serif' text-anchor="start" font-style="normal" >50</text>
<text x="38" y="195" font-size="7" fill="#222" font-weight="bold" font-family='"Liberation Serif", serif' text-anchor="start" font-style="normal" >(h)</text>
<rect x="78" y="187" width="14" height="9" fill="#fff" stroke="#666" stroke-width="0.3"/>
<line x1="79" y1="189.5" x2="82" y2="189.5" stroke="#333" stroke-width="0.5" />
<text x="83" y="190.3" font-size="2.1" fill="#333" font-weight="normal" font-family='"Liberation Sans", sans-serif' text-anchor="start" font-style="normal" >pred. (1)</text>
<line x1="79" y1="193.5" x2="82" y2="193.5" stroke="#333" stroke-width="0.5" stroke-dasharray="0.8 0.5"/>
<text x="83" y="194.3" font-size="2.1" fill="#333" font-weight="normal" font-family='"Liberation Sans", sans-serif' text-anchor="start" font-style="normal" >exp. (2)</text>
<text x="17.1" y="267.2" font-size="2.6" fill="#444" font-weight="normal" font-family='"Liberation Sans", sans-serif' text-anchor="middle" font-style="normal" >0</text>
<text x="28.142857142857146" y="267.2" font-size="2.6" fill="#444" font-weight="normal" font-family='"Liberation Sans", sans-serif' text-anchor="middle" font-style="normal" >100</text>
<text x="39.18571428571429" y="267.2" font-size="2.6" fill="#444" font-weight="normal" font-family='"Liberation Sans", sans-serif' text-anchor="middle" font-style="normal" >200</text>
<text x="50.228571428571435" y="267.2" font-size="2.6" fill="#444" font-weight="normal" font-family='"Liberation Sans", sans-serif' text-anchor="middle" font-style="normal" >300</text>
<text x="61.27142857142858" y="267.2" font-size="2.6" fill="#444" font-weight="normal" font-family='"Liberation Sans", sans-serif' text-anchor="middle" font-style="normal" >400</text>
<text x="72.31428571428572" y="267.2" font-size="2.6" fill="#444" font-weight="normal" font-family='"Liberation Sans", sans-serif' text-anchor="middle" font-style="normal" >500</text>
<text x="83.35714285714286" y="267.2" font-size="2.6" fill="#444" font-weight="normal" font-family='"Liberation Sans", sans-serif' text-anchor="middle" font-style="normal" >600</text>
<text x="94.40000000000003" y="267.2" font-size="2.6" fill="#444" font-weight="normal" font-family='"Liberation Sans", sans-serif' text-anchor="middle" font-style="normal" >700</text>
<text x="56" y="271.8" font-size="3.6" fill="#333" font-weight="normal" font-family='"Liberation Serif", serif' text-anchor="middle" font-style="normal" >Water [ppmv]</text>
<text x="54.5" y="280.2" font-size="5.1" fill="#222" font-weight="normal" font-family='"Liberation Serif", serif' text-anchor="middle" font-style="normal" >0 ppm SO<tspan font-size="3.2" dy="1">2</tspan></text>
<text x="100" y="196.5" font-size="4.2" fill="#c8a880" font-weight="normal" font-family='"Liberation Serif", serif' text-anchor="start" font-style="normal" >Severe</text>
<text x="100" y="223" font-size="4.2" fill="#c8a880" font-weight="normal" font-family='"Liberation Serif", serif' text-anchor="start" font-style="normal" >High</text>
<text x="100" y="248" font-size="4.2" fill="#c8a880" font-weight="normal" font-family='"Liberation Serif", serif' text-anchor="start" font-style="normal" >Moderate</text>
<text x="100" y="262.5" font-size="4.2" fill="#c8a880" font-weight="normal" font-family='"Liberation Serif", serif' text-anchor="start" font-style="normal" >Low</text>
<line x1="95" y1="195" x2="99" y2="195" stroke="#c8a880" stroke-width="0.4" />
<rect x="40" y="262" width="5" height="5" fill="#f6d0e8" opacity="0.6"/>
<rect x="50" y="262" width="4" height="5" fill="#d0f4f4" opacity="0.6"/>
<rect x="127.5" y="184" width="78.0" height="78.10000000000002" fill="#fff" stroke="#777" stroke-width="0.4"/>
<rect x="128" y="184.5" width="77" height="15" fill="#fdeef6" opacity="0.8"/>
<text x="126.0" y="185.0" font-size="2.8" fill="#444" font-weight="normal" font-family='"Liberation Sans", sans-serif' text-anchor="end" font-style="normal" >1</text>
<text x="126.0" y="200.62" font-size="2.8" fill="#444" font-weight="normal" font-family='"Liberation Sans", sans-serif' text-anchor="end" font-style="normal" >0.8</text>
<text x="126.0" y="216.24" font-size="2.8" fill="#444" font-weight="normal" font-family='"Liberation Sans", sans-serif' text-anchor="end" font-style="normal" >0.6</text>
<text x="126.0" y="231.86" font-size="2.8" fill="#444" font-weight="normal" font-family='"Liberation Sans", sans-serif' text-anchor="end" font-style="normal" >0.4</text>
<text x="126.0" y="247.48000000000002" font-size="2.8" fill="#444" font-weight="normal" font-family='"Liberation Sans", sans-serif' text-anchor="end" font-style="normal" >0.2</text>
<text x="126.0" y="263.1" font-size="2.8" fill="#444" font-weight="normal" font-family='"Liberation Sans", sans-serif' text-anchor="end" font-style="normal" >0</text>
<text x="121" y="224" font-size="3" fill="#333" font-weight="normal" font-family='"Liberation Sans", sans-serif' text-anchor="middle" font-style="normal" transform="rotate(-90 121 224)">Corrosion rate [mm/y]</text>
<line x1="127.5" y1="242.7" x2="205.5" y2="242.7" stroke="#c8b090" stroke-width="0.6" />
<line x1="127.5" y1="252.9" x2="205.5" y2="252.9" stroke="#c8b090" stroke-width="0.6" />
<polyline points="133.7,217.7 150.9,184.9" fill="none" stroke="#303070" stroke-width="0.75" stroke-dasharray="1.5 1"/>
<polyline points="150.9,184.9 173.7,230.6" fill="none" stroke="#c04060" stroke-width="0.875" stroke-dasharray="1.5 1"/>
<polyline points="133.7,230.6 150.9,194.9" fill="none" stroke="#d8d060" stroke-width="0.875" stroke-dasharray="1.5 1"/>
<polyline points="150.9,194.9 173.7,230.6" fill="none" stroke="#a06060" stroke-width="0.875" stroke-dasharray="1.5 1"/>
<polyline points="132.6,253.4 151.5,235.6 173.8,231 196.5,201.4" fill="none" stroke="#c8c040" stroke-width="1.0" />
<polyline points="132.6,253.4 151.5,240.4 173.8,231 196.5,214.8" fill="none" stroke="#4a5ab0" stroke-width="0.875" />
<polyline points="132.6,260 151.5,257.6 173.8,241.5" fill="none" stroke="#5050c0" stroke-width="0.75" stroke-dasharray="1.5 1"/>
<polyline points="132.6,261.5 151.5,260.5 173.8,252.7 196.5,242.7" fill="none" stroke="#4040c0" stroke-width="1.0" />
<circle cx="133" cy="217" r="0.9" fill="#111"/>
<circle cx="151" cy="185.7" r="0.9" fill="#111"/>
<circle cx="173.7" cy="226" r="0.9" fill="#111"/>
<circle cx="133" cy="230.4" r="0.9" fill="#111"/>
<circle cx="151" cy="195" r="0.9" fill="#111"/>
<circle cx="151.5" cy="235.6" r="0.9" fill="#111"/>
<circle cx="173.8" cy="231" r="0.9" fill="#111"/>
<circle cx="196.5" cy="201.4" r="0.9" fill="#111"/>
<circle cx="151.5" cy="240.4" r="0.9" fill="#111"/>
<circle cx="196.5" cy="214.8" r="0.9" fill="#111"/>
<circle cx="132.6" cy="253.4" r="0.9" fill="#111"/>
<circle cx="151.5" cy="257.6" r="0.9" fill="#111"/>
<circle cx="173.8" cy="241.5" r="0.9" fill="#111"/>
<circle cx="132.6" cy="261.5" r="0.9" fill="#111"/>
<circle cx="151.5" cy="260.5" r="0.9" fill="#111"/>
<circle cx="173.8" cy="252.7" r="0.9" fill="#111"/>
<circle cx="196.5" cy="242.7" r="0.9" fill="#111"/>
<rect x="129" y="185.7" width="17" height="14" fill="#fff" stroke="#777" stroke-width="0.3"/>
<line x1="130" y1="188.5" x2="134" y2="188.5" stroke="#e06080" stroke-width="0.6" />
<text x="135" y="189.5" font-size="2.2" fill="#444" font-weight="normal" font-family='"Liberation Sans", sans-serif' text-anchor="start" font-style="normal" >5000</text>
<line x1="130" y1="192.8" x2="134" y2="192.8" stroke="#d8c040" stroke-width="0.6" />
<text x="135" y="193.8" font-size="2.2" fill="#444" font-weight="normal" font-family='"Liberation Sans", sans-serif' text-anchor="start" font-style="normal" >500</text>
<line x1="130" y1="197.1" x2="134" y2="197.1" stroke="#4040c0" stroke-width="0.6" />
<text x="135" y="198.1" font-size="2.2" fill="#444" font-weight="normal" font-family='"Liberation Sans", sans-serif' text-anchor="start" font-style="normal" >50</text>
<text x="179.3" y="194" font-size="7" fill="#222" font-weight="bold" font-family='"Liberation Serif", serif' text-anchor="start" font-style="normal" >(i)</text>
<rect x="188.3" y="186.2" width="15.7" height="9" fill="#fff" stroke="#666" stroke-width="0.3"/>
<line x1="189" y1="188.8" x2="192" y2="188.8" stroke="#333" stroke-width="0.5" />
<text x="193" y="189.6" font-size="2.1" fill="#333" font-weight="normal" font-family='"Liberation Sans", sans-serif' text-anchor="start" font-style="normal" >pred. (1)</text>
<line x1="189" y1="192.8" x2="192" y2="192.8" stroke="#333" stroke-width="0.5" stroke-dasharray="0.8 0.5"/>
<text x="193" y="193.6" font-size="2.1" fill="#333" font-weight="normal" font-family='"Liberation Sans", sans-serif' text-anchor="start" font-style="normal" >exp. (2)</text>
<text x="127.5" y="266.5" font-size="2.6" fill="#444" font-weight="normal" font-family='"Liberation Sans", sans-serif' text-anchor="middle" font-style="normal" >0</text>
<text x="140.5" y="266.5" font-size="2.6" fill="#444" font-weight="normal" font-family='"Liberation Sans", sans-serif' text-anchor="middle" font-style="normal" >200</text>
<text x="153.5" y="266.5" font-size="2.6" fill="#444" font-weight="normal" font-family='"Liberation Sans", sans-serif' text-anchor="middle" font-style="normal" >400</text>
<text x="166.5" y="266.5" font-size="2.6" fill="#444" font-weight="normal" font-family='"Liberation Sans", sans-serif' text-anchor="middle" font-style="normal" >600</text>
<text x="179.5" y="266.5" font-size="2.6" fill="#444" font-weight="normal" font-family='"Liberation Sans", sans-serif' text-anchor="middle" font-style="normal" >800</text>
<text x="192.5" y="266.5" font-size="2.6" fill="#444" font-weight="normal" font-family='"Liberation Sans", sans-serif' text-anchor="middle" font-style="normal" >1000</text>
<text x="205.5" y="266.5" font-size="2.6" fill="#444" font-weight="normal" font-family='"Liberation Sans", sans-serif' text-anchor="middle" font-style="normal" >1200</text>
<text x="167" y="270.6" font-size="3.6" fill="#333" font-weight="normal" font-family='"Liberation Serif", serif' text-anchor="middle" font-style="normal" >Water [ppmv]</text>
<text x="168.6" y="279.2" font-size="5.1" fill="#222" font-weight="normal" font-family='"Liberation Serif", serif' text-anchor="middle" font-style="normal" >100 ppm NO<tspan font-size="3.2" dy="1">2</tspan></text>
<text x="212.9" y="214.8" font-size="3.9" fill="#c8a880" font-weight="normal" font-family='"Liberation Serif", serif' text-anchor="start" font-style="normal" >Severe</text>
<text x="212.9" y="249.6" font-size="3.9" fill="#c8a880" font-weight="normal" font-family='"Liberation Serif", serif' text-anchor="start" font-style="normal" >High</text>
<text x="212.9" y="258.6" font-size="3.9" fill="#c8a880" font-weight="normal" font-family='"Liberation Serif", serif' text-anchor="start" font-style="normal" >Moderate</text>
<text x="212.9" y="263.4" font-size="3.9" fill="#c8a880" font-weight="normal" font-family='"Liberation Serif", serif' text-anchor="start" font-style="normal" >Low</text>
<line x1="207.5" y1="213.4" x2="210.5" y2="213.4" stroke="#c8a880" stroke-width="0.4" />
<line x1="207.5" y1="248.2" x2="210.5" y2="248.2" stroke="#c8a880" stroke-width="0.4" />
<line x1="207.5" y1="257.3" x2="210.5" y2="257.3" stroke="#c8a880" stroke-width="0.4" />
<line x1="207.5" y1="262" x2="210.5" y2="262" stroke="#c8a880" stroke-width="0.4" />
<line x1="208.5" y1="184" x2="208.5" y2="262" stroke="#e0d0c0" stroke-width="0.3" />
<rect x="241.2" y="188.5" width="89.80000000000001" height="79.10000000000002" fill="#fde6e6" />
<path d="M241.2 267.6 L331 267.6 L331 234.4 Z" fill="#f6e2c4"/>
<line x1="241.2" y1="267.6" x2="331" y2="234.4" stroke="#c8b8a8" stroke-width="0.4"/>
<path d="M241.2 267.6 L241.2 188.5 L273 188.5 Z" fill="#8fcaca"/>
<path d="M241.2 267.6 L273 188.5 L277 188.5 Z" fill="#b4b0c8"/>
<rect x="241.2" y="188.5" width="3" height="79.10000000000002" fill="#b0c4d0" opacity="0.5"/>
<rect x="241.2" y="188.5" width="89.80000000000001" height="79.10000000000002" fill="none" stroke="#b8b8b8" stroke-width="0.5"/>
<rect x="258.3" y="199.2" width="27.6" height="4.6" fill="#f4fbfb" opacity="0.85"/>
<rect x="320.5" y="189.8" width="9" height="6.5" fill="#fff" opacity="0.7"/>
<text x="258.8" y="203" font-size="3.8" fill="#222" font-weight="bold" font-family='"Liberation Serif", serif' text-anchor="start" font-style="normal" textLength="26.5" lengthAdjust="spacingAndGlyphs">pCO<tspan font-size="2.3" dy="0.8">2</tspan><tspan dy="-0.8">/pH</tspan><tspan font-size="2.3" dy="0.8">2</tspan><tspan dy="-0.8">S=20</tspan></text>
<text x="242.9" y="214.2" font-size="3.4" fill="#222" font-weight="bold" font-family='"Liberation Serif", serif' text-anchor="start" font-style="normal" >H<tspan font-size="2.3" dy="0.8">2</tspan><tspan dy="-0.8">S REGIME</tspan></text>
<text x="242.9" y="219.2" font-size="3.4" fill="#222" font-weight="bold" font-family='"Liberation Serif", serif' text-anchor="start" font-style="normal" >SOUR</text>
<text x="275.5" y="224.5" font-size="3.4" fill="#222" font-weight="bold" font-family='"Liberation Serif", serif' text-anchor="start" font-style="normal" textLength="43" lengthAdjust="spacingAndGlyphs">CO<tspan font-size="2.3" dy="0.8">2</tspan><tspan dy="-0.8">-H</tspan><tspan font-size="2.3" dy="0.8">2</tspan><tspan dy="-0.8">S REGIME MIXED</tspan></text>
<text x="294" y="243" font-size="3.8" fill="#222" font-weight="bold" font-family='"Liberation Serif", serif' text-anchor="start" font-style="normal" textLength="29.4" lengthAdjust="spacingAndGlyphs">pCO<tspan font-size="2.3" dy="0.8">2</tspan><tspan dy="-0.8">/PH</tspan><tspan font-size="2.3" dy="0.8">2</tspan><tspan dy="-0.8">S=500</tspan></text>
<text x="291" y="261.8" font-size="3.4" fill="#222" font-weight="bold" font-family='"Liberation Serif", serif' text-anchor="start" font-style="normal" textLength="35" lengthAdjust="spacingAndGlyphs">CO<tspan font-size="2.3" dy="0.8">2</tspan><tspan dy="-0.8"> REGIME SWEET</tspan></text>
<text x="321.8" y="195.8" font-size="7" fill="#222" font-weight="bold" font-family='"Liberation Serif", serif' text-anchor="start" font-style="normal" >(j)</text>
<line x1="235.4" y1="259" x2="235.4" y2="205" stroke="#444" stroke-width="0.5" />
<path d="M235.4 202.8 L234.2 205.8 L236.6 205.8 Z" fill="#444"/>
<text x="233.3" y="201.3" font-size="3" fill="#222" font-weight="bold" font-family='"Liberation Serif", serif' text-anchor="middle" font-style="normal" >PH<tspan font-size="2.3" dy="0.8">2</tspan><tspan dy="-0.8">S</tspan></text>
<line x1="258" y1="271" x2="298" y2="271" stroke="#444" stroke-width="0.5" />
<path d="M300.5 271 L297.5 269.8 L297.5 272.2 Z" fill="#444"/>
<rect x="226" y="272" width="4.5" height="13" fill="#fbe2f2" />
<rect x="231" y="272" width="4.5" height="13" fill="#e6fafa" />
<rect x="236" y="272" width="4.5" height="13" fill="#fbe2f2" />
<rect x="241" y="272" width="4.5" height="13" fill="#e6fafa" />
<rect x="246" y="272" width="4.5" height="13" fill="#fbe2f2" />
<rect x="251" y="272" width="4.5" height="13" fill="#e6fafa" />
<rect x="256" y="272" width="4.5" height="13" fill="#fbe2f2" />
<rect x="262" y="272" width="4.5" height="13" fill="#e6fafa" />
<rect x="268" y="272" width="4.5" height="13" fill="#fbe2f2" />
<text x="306.5" y="272.2" font-size="3" fill="#222" font-weight="bold" font-family='"Liberation Serif", serif' text-anchor="middle" font-style="normal" >pCO<tspan font-size="2.3" dy="0.8">2</tspan></text>
<line x1="8.7" y1="3.7" x2="546" y2="3.7" stroke="#7a7a7a" stroke-width="1.1" stroke-dasharray="3.4 3.95"/>
<line x1="9.5" y1="287.6" x2="546" y2="287.6" stroke="#7a7a7a" stroke-width="1.1" stroke-dasharray="3.4 3.95"/>
<line x1="3.7" y1="9" x2="3.7" y2="287" stroke="#7a7a7a" stroke-width="1.1" stroke-dasharray="3.4 3.95"/>
<line x1="546" y1="9" x2="546" y2="287" stroke="#7a7a7a" stroke-width="1.1" stroke-dasharray="3.4 3.95"/>
<path d="M3.2 6.5 L4.8 3.5" stroke="#7a7a7a" stroke-width="1"/>
<path d="M3.2 286 L4.8 288" stroke="#7a7a7a" stroke-width="1"/>
<path d="M544.8 3.5 L546.5 5.5" stroke="#7a7a7a" stroke-width="1"/>
<path d="M544.8 288 L546.5 286" stroke="#7a7a7a" stroke-width="1"/>
</svg></body></html>
